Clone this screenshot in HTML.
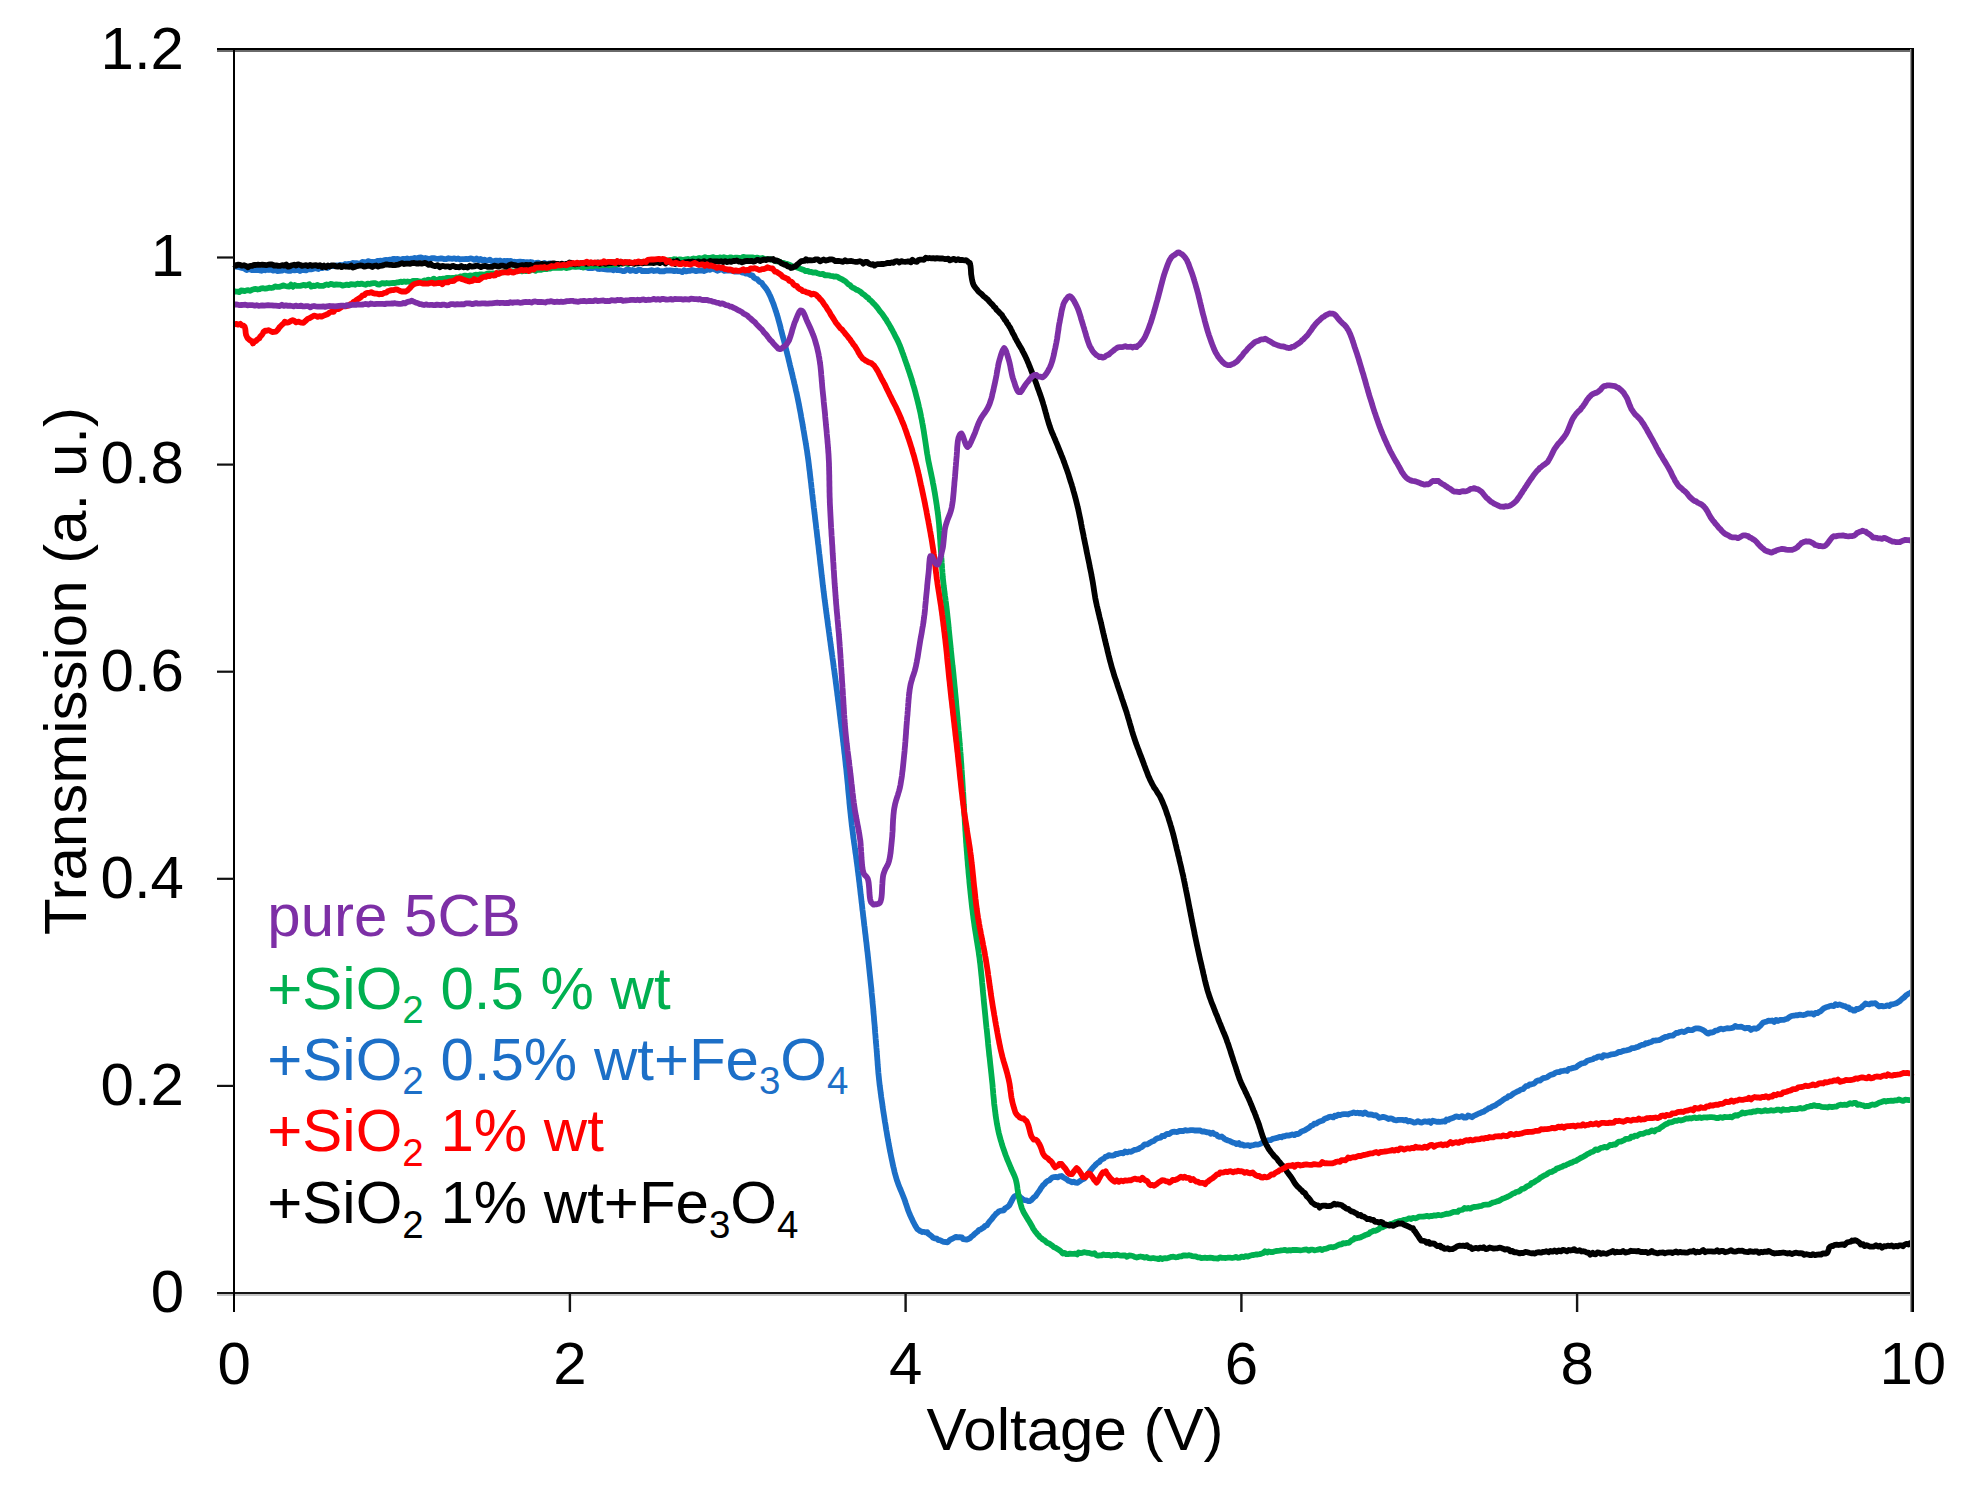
<!DOCTYPE html>
<html lang="en"><head><meta charset="utf-8"><title>Transmission vs Voltage</title>
<style>html,body{margin:0;padding:0;background:#fff;overflow:hidden;}svg{display:block;}text{white-space:pre;}</style></head>
<body>
<svg width="1967" height="1494" viewBox="0 0 1967 1494">
<rect width="1967" height="1494" fill="#fff"/>
<g fill="none" stroke-linejoin="round" stroke-linecap="butt" stroke-width="5.8">
<path stroke="#1c6fc7" d="M234.0,266.0 L235.8,266.7 L237.6,266.9 L239.5,267.2 L241.3,267.9 L243.2,268.1 L245.0,269.0 L246.6,270.0 L248.4,269.3 L250.2,269.4 L251.9,270.2 L253.7,270.2 L255.7,270.2 L257.8,269.8 L260.0,270.4 L261.6,270.8 L263.3,269.8 L265.1,270.3 L267.0,269.6 L269.0,270.0 L271.0,269.7 L273.1,270.6 L275.3,270.1 L277.5,271.0 L279.7,270.9 L281.9,270.7 L284.1,269.4 L286.3,270.5 L288.4,270.8 L290.5,270.8 L292.6,269.9 L294.6,270.4 L296.5,270.0 L298.3,270.0 L300.0,271.0 L302.0,269.8 L304.1,270.1 L306.0,270.4 L307.7,269.4 L309.6,269.4 L311.3,269.3 L313.0,269.0 L314.6,268.1 L316.5,268.5 L318.3,269.0 L319.9,267.2 L321.9,268.2 L323.6,267.5 L325.3,266.9 L327.3,268.0 L328.9,267.0 L330.5,265.7 L332.4,266.1 L334.3,266.1 L336.1,265.4 L338.1,265.6 L340.0,265.0 L341.7,265.1 L343.5,265.4 L345.2,264.0 L347.1,264.3 L348.9,263.8 L350.8,263.9 L352.6,263.0 L354.6,263.1 L356.5,263.2 L358.5,263.6 L360.5,263.5 L362.3,262.0 L364.2,262.1 L366.2,262.7 L368.0,261.1 L370.0,261.8 L371.9,261.8 L373.8,262.3 L375.5,261.8 L377.2,261.0 L379.0,260.8 L380.8,260.6 L382.7,261.4 L384.3,260.1 L386.1,260.0 L388.0,260.1 L389.9,259.7 L391.8,259.5 L393.7,258.8 L395.8,259.2 L397.8,258.9 L400.0,259.6 L401.7,259.3 L403.4,258.8 L405.2,259.2 L407.1,258.5 L409.0,259.3 L410.9,258.6 L412.8,258.9 L414.8,257.9 L416.9,258.7 L418.9,257.6 L421.0,257.4 L423.1,258.3 L425.2,258.0 L427.3,258.6 L429.5,259.8 L431.6,258.1 L433.7,258.2 L435.9,258.7 L438.0,258.9 L440.1,258.5 L442.2,258.5 L444.3,259.1 L446.4,259.0 L448.5,258.2 L450.5,258.7 L452.4,258.8 L454.4,258.3 L456.3,259.1 L458.2,258.5 L460.0,259.5 L462.1,259.2 L464.2,259.2 L466.3,258.9 L468.3,259.2 L470.4,258.3 L472.4,258.8 L474.4,259.8 L476.5,258.5 L478.4,260.2 L480.4,258.9 L482.3,260.4 L484.3,259.6 L486.1,260.6 L488.0,260.4 L489.9,259.6 L491.6,261.2 L493.3,261.4 L495.1,260.7 L496.8,260.7 L498.4,260.8 L500.0,260.5 L502.0,261.7 L504.0,260.9 L505.8,261.2 L507.5,260.9 L509.2,261.1 L510.9,260.8 L512.5,262.3 L514.2,261.6 L516.0,262.3 L518.0,261.9 L520.0,261.6 L521.6,261.9 L523.3,261.9 L525.0,262.3 L526.8,262.2 L528.6,262.4 L530.5,262.0 L532.4,262.4 L534.2,263.9 L536.2,262.8 L538.2,262.7 L540.1,263.6 L542.1,264.3 L544.2,262.9 L546.2,263.8 L548.2,263.7 L550.3,263.3 L552.1,264.8 L554.2,264.5 L556.1,264.7 L558.1,264.4 L560.0,265.2 L561.9,264.9 L563.8,265.2 L565.8,264.9 L567.7,265.0 L569.4,266.5 L571.4,265.7 L573.3,266.3 L575.2,266.3 L577.1,266.3 L579.0,266.4 L580.9,267.2 L582.8,266.9 L584.7,267.1 L586.6,267.4 L588.4,268.2 L590.4,268.1 L592.3,268.1 L594.3,267.7 L596.2,267.5 L598.0,268.9 L600.0,269.0 L601.9,268.6 L603.7,269.1 L605.6,269.3 L607.5,269.5 L609.4,269.7 L611.3,269.1 L613.2,270.3 L615.2,268.9 L617.0,270.2 L618.9,270.1 L620.8,270.4 L622.7,271.1 L624.6,271.0 L626.6,269.6 L628.5,269.4 L630.4,270.9 L632.3,270.0 L634.2,270.6 L636.1,271.2 L638.1,269.9 L640.1,269.7 L642.0,271.0 L644.0,271.0 L645.9,270.9 L647.9,271.1 L649.9,270.6 L651.9,270.2 L654.0,271.0 L656.0,270.6 L658.0,270.2 L660.1,271.4 L662.1,271.1 L664.1,271.3 L666.2,270.5 L668.2,270.7 L670.2,270.5 L672.2,270.6 L674.3,271.1 L676.3,270.6 L678.3,271.2 L680.2,271.2 L682.2,272.1 L684.1,270.2 L686.1,271.4 L688.0,270.9 L690.0,270.9 L692.0,270.0 L694.0,270.5 L696.0,271.1 L698.0,270.6 L700.0,270.6 L702.0,270.4 L704.0,271.1 L705.9,270.4 L707.8,269.1 L709.8,269.9 L711.7,269.1 L713.5,268.4 L715.4,269.8 L717.3,270.8 L719.1,270.1 L720.9,269.5 L722.6,269.7 L724.3,270.9 L726.0,270.5 L728.1,270.6 L730.3,270.7 L732.3,270.9 L734.3,271.6 L736.4,271.7 L738.3,271.7 L740.4,271.4 L742.1,272.5 L744.0,272.3 L745.5,273.6 L747.4,273.1 L748.8,274.1 L750.7,275.1 L752.7,275.6 L753.8,277.5 L755.5,278.6 L757.3,279.3 L758.5,280.8 L759.9,282.0 L761.8,282.9 L762.8,284.7 L764.1,286.1 L765.3,287.6 L766.5,289.1 L767.6,291.0 L768.5,292.5 L769.3,294.2 L770.1,295.8 L770.9,297.6 L771.6,299.5 L772.4,301.4 L773.2,303.3 L773.9,305.3 L774.6,307.4 L775.3,309.4 L775.8,311.1 L776.4,312.7 L776.9,314.5 L777.5,316.2 L778.0,318.0 L778.5,319.9 L779.0,321.7 L779.5,323.6 L780.0,325.4 L780.5,327.3 L780.9,329.2 L781.4,331.1 L781.9,333.0 L782.4,334.9 L782.9,336.8 L783.4,338.7 L783.9,340.5 L784.4,342.4 L784.8,344.3 L785.3,346.2 L785.8,348.0 L786.3,349.9 L786.7,351.8 L787.2,353.8 L787.7,355.7 L788.2,357.6 L788.6,359.5 L789.1,361.5 L789.6,363.4 L790.0,365.4 L790.5,367.3 L790.9,369.1 L791.4,370.9 L791.8,372.8 L792.3,374.6 L792.7,376.4 L793.1,378.2 L793.6,380.0 L794.0,381.9 L794.4,383.7 L794.9,385.6 L795.3,387.4 L795.7,389.3 L796.1,391.2 L796.6,393.1 L797.0,395.0 L797.4,397.0 L797.8,398.9 L798.2,400.9 L798.6,402.8 L799.0,404.7 L799.3,406.6 L799.7,408.6 L800.1,410.7 L800.5,412.8 L800.9,414.9 L801.2,417.0 L801.6,419.1 L802.0,421.2 L802.4,423.3 L802.7,425.4 L803.1,427.5 L803.4,429.5 L803.8,431.5 L804.1,433.4 L804.4,435.3 L804.7,437.1 L805.0,438.9 L805.3,440.5 L805.6,442.1 L805.8,443.6 L806.2,445.7 L806.4,447.5 L806.7,449.2 L807.0,450.8 L807.2,452.3 L807.4,454.0 L807.7,455.9 L808.0,458.0 L808.2,459.4 L808.4,460.9 L808.6,462.5 L808.8,464.1 L809.0,465.9 L809.2,467.6 L809.4,469.5 L809.7,471.4 L809.9,473.3 L810.1,475.3 L810.3,477.3 L810.6,479.3 L810.8,481.3 L811.1,483.4 L811.3,485.5 L811.5,487.6 L811.8,489.7 L812.0,491.7 L812.2,493.8 L812.5,495.9 L812.7,497.9 L812.9,499.9 L813.2,501.9 L813.4,503.8 L813.6,505.7 L813.8,507.6 L814.1,509.5 L814.3,511.4 L814.5,513.3 L814.8,515.3 L815.0,517.2 L815.2,519.1 L815.4,521.0 L815.7,522.9 L815.9,524.8 L816.1,526.7 L816.3,528.6 L816.6,530.5 L816.8,532.4 L817.0,534.3 L817.2,536.2 L817.5,538.2 L817.7,540.1 L817.9,542.0 L818.1,543.9 L818.4,545.8 L818.6,547.7 L818.8,549.6 L819.0,551.5 L819.2,553.4 L819.5,555.3 L819.7,557.2 L819.9,559.1 L820.1,561.0 L820.3,562.9 L820.5,564.8 L820.8,566.7 L821.0,568.6 L821.2,570.5 L821.4,572.5 L821.6,574.4 L821.8,576.3 L822.1,578.2 L822.3,580.1 L822.5,582.0 L822.7,583.9 L822.9,585.8 L823.2,587.7 L823.4,589.6 L823.6,591.5 L823.9,593.4 L824.1,595.3 L824.3,597.2 L824.6,599.1 L824.8,601.0 L825.1,602.9 L825.3,604.8 L825.6,606.8 L825.8,608.7 L826.1,610.6 L826.3,612.5 L826.6,614.4 L826.8,616.3 L827.1,618.2 L827.4,620.1 L827.6,622.0 L827.9,624.0 L828.1,625.9 L828.4,627.8 L828.7,629.7 L828.9,631.6 L829.2,633.5 L829.4,635.4 L829.7,637.3 L829.9,639.2 L830.2,641.1 L830.5,643.1 L830.7,645.0 L831.0,646.9 L831.2,648.8 L831.5,650.7 L831.8,652.5 L832.0,654.4 L832.3,656.3 L832.5,658.1 L832.8,660.0 L833.1,661.9 L833.3,663.8 L833.6,665.7 L833.8,667.6 L834.1,669.5 L834.4,671.5 L834.6,673.5 L834.9,675.5 L835.2,677.5 L835.5,679.6 L835.7,681.7 L836.0,683.8 L836.3,686.0 L836.5,687.7 L836.7,689.5 L837.0,691.2 L837.2,693.0 L837.4,694.9 L837.7,696.7 L837.9,698.6 L838.1,700.5 L838.4,702.4 L838.6,704.3 L838.9,706.3 L839.1,708.3 L839.4,710.3 L839.6,712.3 L839.8,714.3 L840.1,716.3 L840.3,718.3 L840.6,720.4 L840.8,722.4 L841.1,724.4 L841.3,726.5 L841.6,728.5 L841.8,730.6 L842.1,732.7 L842.3,734.7 L842.6,736.7 L842.8,738.8 L843.0,740.8 L843.3,742.8 L843.5,744.9 L843.8,746.9 L844.0,748.8 L844.2,750.8 L844.4,752.8 L844.7,754.7 L844.9,756.7 L845.1,758.6 L845.3,760.4 L845.5,762.3 L845.7,764.4 L845.9,766.4 L846.2,768.5 L846.4,770.6 L846.6,772.6 L846.8,774.7 L847.0,776.7 L847.2,778.7 L847.4,780.8 L847.6,782.8 L847.8,784.8 L848.0,786.8 L848.1,788.8 L848.3,790.8 L848.5,792.8 L848.7,794.8 L848.9,796.7 L849.1,798.7 L849.3,800.6 L849.4,802.6 L849.6,804.5 L849.8,806.4 L850.0,808.4 L850.2,810.3 L850.4,812.2 L850.6,814.0 L850.8,815.9 L851.0,817.8 L851.2,819.6 L851.4,821.5 L851.6,823.3 L851.8,825.3 L852.1,827.4 L852.3,829.3 L852.6,831.3 L852.8,833.3 L853.1,835.2 L853.3,837.2 L853.6,839.1 L853.9,841.0 L854.1,842.9 L854.4,844.8 L854.7,846.6 L854.9,848.5 L855.2,850.4 L855.4,852.2 L855.7,854.1 L856.0,856.0 L856.2,857.8 L856.5,859.7 L856.7,861.6 L857.0,863.4 L857.2,865.3 L857.5,867.2 L857.7,869.1 L857.9,871.1 L858.2,873.0 L858.4,875.0 L858.7,876.9 L858.9,878.9 L859.1,880.8 L859.4,882.8 L859.6,884.7 L859.8,886.7 L860.1,888.6 L860.3,890.6 L860.5,892.5 L860.7,894.5 L861.0,896.4 L861.2,898.4 L861.4,900.3 L861.6,902.3 L861.9,904.2 L862.1,906.2 L862.3,908.1 L862.5,910.1 L862.8,912.0 L863.0,914.0 L863.2,915.9 L863.4,917.8 L863.7,919.7 L863.9,921.6 L864.1,923.5 L864.3,925.4 L864.6,927.3 L864.8,929.2 L865.0,931.1 L865.2,933.0 L865.5,935.0 L865.7,936.9 L865.9,938.8 L866.1,940.7 L866.4,942.6 L866.6,944.5 L866.8,946.4 L867.0,948.3 L867.2,950.2 L867.5,952.2 L867.7,954.1 L867.9,956.0 L868.1,957.9 L868.3,959.8 L868.5,961.7 L868.7,963.6 L868.9,965.5 L869.1,967.4 L869.3,969.3 L869.5,971.2 L869.7,973.2 L869.9,975.1 L870.1,977.0 L870.3,978.9 L870.5,980.8 L870.7,982.7 L870.9,984.6 L871.1,986.5 L871.3,988.4 L871.5,990.3 L871.6,992.2 L871.8,994.2 L872.0,996.1 L872.2,998.0 L872.4,999.9 L872.5,1001.8 L872.7,1003.7 L872.9,1005.6 L873.1,1007.6 L873.3,1009.6 L873.4,1011.6 L873.6,1013.7 L873.8,1015.7 L874.0,1017.8 L874.1,1019.9 L874.3,1021.9 L874.5,1024.0 L874.7,1026.0 L874.8,1028.1 L875.0,1030.1 L875.1,1032.2 L875.3,1034.2 L875.5,1036.2 L875.6,1038.2 L875.8,1040.1 L875.9,1042.1 L876.1,1044.0 L876.3,1045.9 L876.4,1047.7 L876.6,1049.5 L876.7,1051.3 L876.9,1053.4 L877.0,1055.4 L877.2,1057.4 L877.3,1059.3 L877.5,1061.2 L877.6,1063.1 L877.7,1064.9 L877.9,1066.7 L878.0,1068.6 L878.2,1070.4 L878.3,1072.2 L878.5,1074.1 L878.7,1076.0 L878.9,1078.0 L879.1,1080.0 L879.3,1081.8 L879.5,1083.6 L879.7,1085.5 L880.0,1087.3 L880.2,1089.2 L880.5,1091.1 L880.7,1093.0 L881.0,1095.0 L881.2,1096.9 L881.5,1098.9 L881.8,1100.8 L882.1,1102.8 L882.4,1104.7 L882.6,1106.7 L882.9,1108.6 L883.2,1110.6 L883.5,1112.5 L883.8,1114.4 L884.1,1116.3 L884.4,1118.2 L884.7,1120.2 L885.0,1122.2 L885.4,1124.2 L885.7,1126.2 L886.0,1128.2 L886.3,1130.2 L886.7,1132.2 L887.0,1134.2 L887.3,1136.1 L887.7,1138.1 L888.0,1140.1 L888.4,1142.0 L888.7,1143.9 L889.1,1145.8 L889.4,1147.7 L889.8,1149.6 L890.1,1151.4 L890.5,1153.2 L890.9,1155.2 L891.3,1157.2 L891.7,1159.1 L892.1,1161.0 L892.5,1162.9 L892.9,1164.8 L893.3,1166.7 L893.8,1168.5 L894.2,1170.4 L894.6,1172.2 L895.1,1174.0 L895.6,1175.7 L896.1,1177.5 L896.6,1179.2 L897.2,1181.1 L897.9,1183.0 L898.6,1184.9 L899.3,1186.7 L900.0,1188.5 L900.8,1190.3 L901.5,1192.0 L902.2,1193.8 L902.9,1195.5 L903.6,1197.3 L904.3,1199.0 L905.0,1200.9 L905.6,1202.9 L906.3,1204.8 L906.9,1206.6 L907.5,1208.5 L908.2,1210.4 L908.9,1212.2 L909.6,1214.0 L910.4,1215.8 L911.3,1217.7 L912.2,1219.6 L913.1,1221.7 L914.2,1223.7 L915.2,1225.6 L916.3,1227.3 L917.2,1229.0 L918.7,1229.9 L919.6,1230.9 L921.0,1231.3 L922.5,1232.0 L924.0,1231.8 L925.4,1232.4 L927.3,1232.2 L928.4,1233.9 L930.1,1235.0 L931.7,1236.3 L933.1,1237.8 L935.0,1238.4 L936.8,1238.7 L938.3,1240.1 L940.2,1240.2 L941.9,1241.1 L943.6,1241.9 L945.5,1242.0 L947.4,1242.3 L949.0,1240.8 L950.5,1239.5 L952.4,1238.8 L954.2,1237.8 L955.9,1236.9 L957.7,1237.4 L959.7,1237.1 L961.8,1237.3 L963.2,1239.2 L965.1,1239.4 L966.8,1239.7 L968.4,1239.0 L970.0,1238.1 L971.4,1236.7 L973.1,1235.5 L974.5,1234.0 L976.1,1232.7 L977.6,1231.7 L978.8,1230.1 L980.6,1229.5 L982.1,1228.4 L983.7,1227.5 L985.0,1226.0 L986.9,1225.3 L987.9,1223.8 L989.0,1222.3 L990.1,1220.9 L991.4,1219.5 L992.5,1218.1 L993.6,1216.5 L994.9,1215.2 L996.0,1213.8 L997.4,1212.9 L998.7,1211.5 L1000.3,1210.9 L1002.1,1210.5 L1004.0,1210.3 L1005.0,1208.3 L1006.5,1207.6 L1007.9,1206.6 L1009.3,1205.3 L1010.3,1203.5 L1011.3,1201.6 L1012.3,1199.7 L1013.2,1198.0 L1014.2,1196.5 L1015.6,1195.8 L1017.5,1195.0 L1019.2,1196.2 L1020.9,1197.7 L1022.6,1199.1 L1024.6,1200.2 L1026.5,1200.3 L1027.9,1201.0 L1029.7,1201.2 L1031.3,1200.1 L1032.6,1198.8 L1034.0,1197.3 L1035.6,1196.1 L1036.6,1194.6 L1037.6,1193.1 L1038.7,1191.6 L1039.9,1190.0 L1040.8,1188.3 L1042.0,1186.8 L1043.0,1185.2 L1044.6,1183.9 L1045.9,1182.2 L1047.5,1180.9 L1049.5,1180.2 L1050.8,1178.8 L1052.2,1177.5 L1054.0,1177.1 L1055.8,1176.9 L1057.7,1177.3 L1059.5,1176.4 L1061.6,1176.0 L1063.1,1177.3 L1064.8,1178.2 L1066.6,1179.2 L1068.2,1180.7 L1070.1,1181.3 L1071.8,1182.3 L1073.6,1181.6 L1075.6,1182.6 L1077.6,1182.8 L1079.3,1181.5 L1081.0,1180.4 L1082.8,1179.2 L1084.3,1178.6 L1085.1,1177.0 L1086.4,1175.8 L1087.7,1174.4 L1088.9,1172.9 L1090.0,1171.2 L1091.3,1169.7 L1092.5,1168.1 L1093.7,1166.8 L1095.0,1165.5 L1096.3,1164.0 L1097.9,1162.8 L1099.6,1161.7 L1100.8,1160.1 L1102.4,1159.1 L1104.2,1158.3 L1105.4,1156.8 L1107.2,1156.4 L1108.7,1155.1 L1110.7,1155.6 L1112.5,1155.7 L1114.2,1155.3 L1115.8,1153.8 L1117.6,1154.0 L1119.4,1153.3 L1121.3,1152.9 L1123.3,1153.3 L1125.0,1151.5 L1127.2,1152.4 L1129.0,1151.5 L1131.1,1151.9 L1132.9,1150.8 L1134.6,1149.9 L1136.6,1149.6 L1138.4,1149.0 L1140.0,1147.9 L1141.8,1147.1 L1143.3,1145.8 L1144.7,1144.3 L1147.1,1144.4 L1148.7,1143.5 L1150.2,1142.5 L1151.9,1141.6 L1153.8,1141.0 L1155.3,1139.6 L1157.0,1138.6 L1158.8,1138.0 L1160.8,1137.7 L1162.0,1136.0 L1164.2,1136.2 L1165.6,1134.7 L1167.2,1133.8 L1169.2,1134.1 L1170.7,1132.9 L1172.3,1131.8 L1174.4,1131.7 L1176.2,1132.0 L1177.9,1131.9 L1179.6,1130.8 L1181.4,1131.0 L1183.3,1131.0 L1185.2,1130.2 L1187.1,1130.6 L1189.0,1130.4 L1190.9,1130.1 L1192.7,1130.1 L1194.5,1130.5 L1196.4,1130.5 L1198.3,1130.3 L1200.2,1130.5 L1201.9,1131.5 L1203.8,1131.3 L1205.6,1131.9 L1207.4,1132.4 L1209.2,1132.4 L1210.7,1133.7 L1212.9,1132.8 L1214.4,1134.2 L1216.4,1134.5 L1217.7,1136.1 L1219.4,1136.9 L1221.7,1136.5 L1223.2,1137.7 L1224.6,1139.0 L1226.2,1139.8 L1228.0,1140.5 L1229.8,1141.0 L1231.4,1141.9 L1233.1,1142.7 L1234.9,1143.0 L1236.5,1144.1 L1238.8,1143.0 L1240.3,1144.8 L1242.3,1144.4 L1244.1,1145.7 L1246.2,1145.4 L1248.2,1145.2 L1250.1,1146.0 L1252.0,1145.3 L1253.7,1145.1 L1255.4,1144.5 L1257.4,1144.7 L1259.2,1144.2 L1261.0,1143.6 L1262.5,1142.4 L1264.4,1142.1 L1266.0,1141.0 L1267.6,1140.4 L1269.4,1140.2 L1271.1,1140.0 L1272.6,1138.9 L1274.3,1138.5 L1276.0,1138.1 L1277.9,1137.7 L1279.6,1136.8 L1281.5,1137.3 L1283.1,1136.2 L1284.9,1136.3 L1286.7,1135.3 L1288.6,1135.6 L1290.5,1135.2 L1292.3,1134.4 L1294.4,1135.2 L1296.1,1133.9 L1298.1,1134.0 L1299.8,1133.0 L1301.2,1131.6 L1303.0,1130.9 L1304.8,1130.3 L1306.4,1129.3 L1308.1,1128.3 L1309.7,1127.2 L1311.1,1125.7 L1313.0,1125.2 L1314.3,1123.7 L1316.4,1123.6 L1317.8,1122.4 L1319.5,1121.6 L1321.2,1121.0 L1322.9,1120.5 L1324.2,1119.1 L1325.8,1118.3 L1327.6,1117.9 L1329.1,1116.8 L1331.1,1116.7 L1333.3,1117.4 L1334.6,1115.7 L1336.5,1116.1 L1338.1,1114.7 L1340.2,1115.1 L1342.0,1114.4 L1344.0,1114.2 L1346.0,1114.2 L1348.1,1114.5 L1349.9,1113.5 L1351.9,1113.2 L1353.7,1112.4 L1355.6,1113.2 L1357.4,1112.7 L1359.1,1113.3 L1361.1,1112.9 L1362.9,1114.0 L1365.0,1112.4 L1366.7,1113.6 L1368.3,1114.6 L1370.2,1114.4 L1372.1,1114.7 L1373.9,1115.4 L1376.0,1115.2 L1377.6,1116.3 L1379.1,1117.8 L1381.0,1117.5 L1383.1,1116.8 L1384.9,1117.3 L1386.7,1117.9 L1388.5,1119.0 L1390.6,1118.4 L1392.5,1118.8 L1394.3,1120.0 L1396.3,1120.3 L1398.3,1119.9 L1400.4,1119.8 L1402.2,1119.8 L1404.1,1120.4 L1406.1,1119.8 L1407.9,1121.5 L1410.0,1120.9 L1412.0,1121.7 L1414.0,1122.6 L1416.0,1122.3 L1418.1,1121.1 L1420.0,1122.3 L1422.0,1122.5 L1423.9,1121.5 L1425.8,1121.5 L1427.5,1121.9 L1429.2,1121.1 L1430.8,1122.8 L1432.8,1120.7 L1434.8,1121.3 L1436.6,1121.8 L1438.4,1121.7 L1440.1,1121.8 L1441.8,1121.7 L1443.4,1121.2 L1445.1,1121.6 L1446.5,1119.5 L1448.5,1119.8 L1449.9,1118.8 L1451.7,1118.4 L1453.4,1117.7 L1455.2,1116.7 L1456.9,1116.5 L1458.7,1117.1 L1460.4,1116.7 L1462.3,1116.1 L1464.2,1117.6 L1466.2,1117.7 L1468.0,1115.5 L1470.0,1116.3 L1472.0,1117.2 L1473.7,1115.9 L1475.4,1115.1 L1477.0,1114.3 L1478.7,1113.5 L1480.4,1112.9 L1482.0,1112.1 L1483.9,1111.7 L1485.3,1110.4 L1487.0,1109.6 L1488.5,1108.4 L1490.4,1107.9 L1491.9,1106.7 L1493.7,1106.0 L1495.5,1105.3 L1497.0,1104.1 L1498.7,1103.1 L1500.3,1101.9 L1501.9,1100.8 L1503.5,1099.6 L1505.2,1098.5 L1507.1,1097.8 L1508.5,1096.2 L1510.6,1096.0 L1512.1,1094.6 L1513.7,1093.4 L1515.5,1092.5 L1517.3,1091.5 L1519.2,1090.8 L1520.9,1089.5 L1523.0,1089.2 L1524.5,1087.6 L1526.0,1086.2 L1528.1,1085.8 L1529.6,1084.5 L1531.6,1084.3 L1533.5,1083.8 L1535.1,1082.7 L1536.4,1081.2 L1538.1,1080.5 L1540.2,1080.5 L1541.5,1079.2 L1543.1,1078.2 L1544.9,1077.8 L1546.8,1077.5 L1548.3,1076.4 L1549.9,1075.2 L1551.7,1074.6 L1553.6,1074.1 L1555.2,1072.9 L1557.1,1072.1 L1559.2,1072.1 L1561.0,1071.1 L1563.1,1070.9 L1565.0,1070.5 L1567.3,1071.0 L1568.7,1068.9 L1570.7,1068.7 L1572.5,1068.1 L1574.4,1067.7 L1576.2,1067.2 L1577.7,1065.8 L1579.3,1064.9 L1580.8,1063.8 L1582.5,1063.3 L1584.4,1063.0 L1585.9,1062.0 L1587.3,1060.8 L1589.1,1060.3 L1590.8,1059.8 L1592.7,1059.3 L1594.3,1058.2 L1596.2,1057.9 L1597.9,1056.6 L1599.9,1056.5 L1602.1,1057.5 L1603.6,1055.2 L1605.8,1055.7 L1607.8,1055.6 L1609.7,1054.9 L1611.6,1054.3 L1613.6,1054.2 L1615.5,1053.7 L1617.3,1053.1 L1618.8,1051.8 L1620.9,1052.0 L1622.6,1051.1 L1624.4,1050.6 L1626.3,1050.3 L1628.2,1049.9 L1630.0,1049.4 L1631.5,1048.2 L1633.5,1048.2 L1635.2,1047.7 L1636.9,1047.1 L1638.6,1046.7 L1640.4,1045.4 L1642.3,1044.8 L1644.2,1044.7 L1645.8,1043.1 L1647.8,1043.3 L1649.5,1042.4 L1651.4,1042.0 L1653.1,1040.7 L1655.2,1040.5 L1656.9,1040.3 L1658.8,1040.2 L1660.5,1039.6 L1662.0,1038.5 L1663.8,1037.8 L1665.4,1036.9 L1667.4,1036.8 L1669.1,1035.9 L1671.0,1035.7 L1673.0,1035.6 L1674.5,1034.2 L1676.1,1033.0 L1678.0,1032.8 L1679.8,1032.0 L1681.9,1031.5 L1684.3,1032.1 L1686.2,1031.0 L1688.1,1029.6 L1690.4,1030.2 L1692.5,1030.0 L1694.3,1028.8 L1696.1,1028.4 L1697.9,1028.4 L1699.5,1028.7 L1700.9,1029.0 L1702.6,1029.8 L1704.2,1030.7 L1705.5,1031.9 L1706.9,1033.1 L1708.7,1033.6 L1710.2,1032.3 L1712.0,1032.5 L1713.7,1031.9 L1715.4,1030.7 L1717.5,1030.4 L1719.4,1029.2 L1721.0,1028.6 L1723.1,1029.4 L1725.0,1028.7 L1727.0,1028.2 L1729.1,1028.3 L1731.1,1028.1 L1733.2,1027.6 L1735.2,1025.9 L1737.2,1026.8 L1739.2,1026.8 L1741.2,1026.6 L1743.1,1027.5 L1745.0,1028.4 L1747.2,1027.9 L1749.1,1028.0 L1750.8,1029.9 L1752.7,1028.8 L1754.4,1028.3 L1756.0,1028.8 L1757.8,1028.1 L1759.1,1026.7 L1760.6,1025.5 L1761.8,1024.0 L1763.2,1022.5 L1765.1,1021.9 L1766.7,1021.7 L1768.3,1020.6 L1770.2,1020.9 L1772.1,1020.5 L1774.1,1022.0 L1776.0,1019.9 L1778.0,1021.0 L1779.9,1020.0 L1781.7,1019.8 L1783.5,1019.9 L1785.4,1019.3 L1787.2,1018.8 L1788.7,1017.7 L1790.2,1016.6 L1791.9,1015.8 L1793.9,1015.7 L1795.8,1015.2 L1797.6,1015.3 L1799.5,1014.6 L1801.5,1014.9 L1803.6,1015.1 L1805.7,1014.4 L1807.8,1013.5 L1809.9,1013.6 L1811.8,1013.3 L1813.9,1014.6 L1815.4,1013.0 L1817.4,1013.2 L1818.9,1012.0 L1820.5,1011.3 L1821.8,1010.1 L1823.1,1008.9 L1824.5,1007.9 L1826.2,1007.3 L1828.0,1006.8 L1829.7,1006.0 L1831.7,1005.7 L1833.8,1006.2 L1835.5,1004.2 L1837.6,1005.1 L1839.5,1004.4 L1841.4,1005.1 L1843.1,1005.8 L1845.0,1006.1 L1846.6,1007.3 L1848.7,1007.5 L1850.0,1009.4 L1852.0,1009.5 L1853.5,1010.6 L1855.2,1010.5 L1856.4,1008.9 L1858.1,1009.1 L1859.7,1008.4 L1861.4,1007.5 L1862.6,1006.1 L1864.1,1005.0 L1865.5,1003.5 L1867.6,1004.2 L1869.2,1004.3 L1871.1,1003.4 L1873.1,1003.5 L1875.3,1003.2 L1877.2,1004.9 L1879.1,1006.3 L1881.4,1005.8 L1883.4,1006.4 L1885.4,1006.2 L1887.1,1005.3 L1889.3,1006.1 L1890.9,1004.4 L1892.8,1004.3 L1894.7,1003.8 L1896.4,1003.2 L1898.0,1002.2 L1899.5,1001.3 L1901.0,999.9 L1902.5,998.5 L1904.1,997.5 L1905.4,996.0 L1906.8,994.8 L1908.3,993.8 L1909.9,993.3 L1911.2,992.1 L1912.8,991.5"/>
<path stroke="#00b050" d="M233.9,291.1 L235.8,291.7 L237.6,291.6 L239.5,292.1 L241.1,290.4 L242.9,290.6 L244.7,291.1 L246.5,290.4 L248.3,290.2 L250.2,290.9 L252.0,289.8 L253.9,289.2 L255.9,288.9 L257.8,289.5 L259.6,289.2 L261.3,288.3 L263.2,288.2 L265.2,288.7 L267.2,288.4 L269.1,287.7 L271.2,288.0 L273.2,287.7 L275.1,286.4 L277.2,286.8 L279.2,286.9 L281.2,286.3 L283.1,285.4 L285.2,286.0 L287.2,286.3 L289.2,286.5 L290.9,284.7 L293.0,286.8 L294.8,285.0 L296.7,285.9 L298.5,285.9 L300.3,285.8 L302.1,285.4 L303.9,284.8 L305.7,285.6 L307.5,285.0 L309.4,284.2 L311.3,286.6 L313.2,285.6 L315.2,286.1 L317.2,284.9 L319.3,285.9 L321.5,285.9 L323.2,285.9 L324.9,285.1 L326.7,284.5 L328.5,285.0 L330.4,284.0 L332.3,284.2 L334.3,284.9 L336.3,284.4 L338.3,284.7 L340.4,284.7 L342.5,285.6 L344.6,285.2 L346.7,284.6 L348.8,285.1 L350.9,284.1 L353.1,284.3 L355.2,284.8 L357.3,283.7 L359.4,284.1 L361.5,283.6 L363.6,284.2 L365.7,284.8 L367.7,283.6 L369.7,284.0 L371.7,283.4 L373.6,283.2 L375.5,283.1 L377.4,284.3 L379.2,284.6 L380.8,283.7 L382.5,283.1 L384.7,283.6 L386.8,283.0 L388.9,283.4 L391.0,283.1 L393.0,283.0 L394.9,283.0 L396.8,282.4 L398.7,282.3 L400.5,281.6 L402.3,282.1 L404.1,281.5 L405.9,281.9 L407.7,281.5 L409.5,281.8 L411.2,281.8 L413.0,280.9 L415.0,281.0 L417.0,280.8 L418.9,281.4 L420.9,281.7 L422.7,281.2 L424.5,280.5 L426.4,281.1 L428.2,279.6 L430.2,280.8 L432.0,279.7 L433.9,278.6 L436.1,280.8 L437.8,280.1 L439.5,278.8 L441.4,279.1 L443.2,278.7 L445.1,278.7 L446.9,277.8 L448.8,277.9 L450.7,278.2 L452.6,277.8 L454.6,278.0 L456.5,277.3 L458.5,278.1 L460.3,276.5 L462.2,276.7 L464.0,275.6 L465.9,275.6 L468.0,276.6 L469.8,275.4 L471.8,275.8 L473.7,275.3 L475.6,274.7 L477.5,274.8 L479.4,274.5 L481.4,274.4 L483.4,274.7 L485.3,274.5 L487.2,273.7 L489.1,273.4 L491.1,273.7 L493.1,273.3 L495.1,273.6 L497.1,274.2 L498.9,273.2 L500.8,272.6 L502.7,272.4 L504.6,271.9 L506.5,271.7 L508.4,271.5 L510.3,271.6 L512.3,271.4 L514.2,271.7 L516.1,271.0 L518.1,270.9 L520.0,270.3 L522.1,271.4 L524.0,270.7 L526.0,271.1 L528.0,270.5 L530.1,270.7 L531.8,269.7 L533.7,270.0 L535.6,270.8 L537.3,268.9 L539.2,269.8 L541.1,269.9 L542.9,269.2 L544.8,269.2 L546.7,269.2 L548.5,268.2 L550.4,268.6 L552.3,267.9 L554.2,267.8 L556.2,267.7 L558.1,267.8 L560.1,267.8 L562.1,267.8 L564.0,266.8 L566.1,268.2 L568.0,267.7 L570.0,267.3 L571.8,266.7 L573.7,266.7 L575.6,266.9 L577.5,266.7 L579.3,265.6 L581.3,266.6 L583.3,267.5 L585.1,265.2 L587.1,266.4 L589.1,266.0 L591.0,265.7 L593.1,266.2 L595.0,265.0 L597.0,265.5 L599.0,265.9 L600.9,265.1 L602.9,264.9 L604.8,265.0 L606.8,264.6 L608.8,265.4 L610.6,264.2 L612.6,264.9 L614.4,263.8 L616.3,264.5 L618.2,264.1 L619.9,262.8 L622.0,263.9 L623.9,263.2 L625.9,263.4 L627.9,264.1 L629.8,262.8 L631.7,262.7 L633.7,263.7 L635.5,262.9 L637.4,263.4 L639.3,262.7 L641.1,262.0 L643.0,262.3 L644.9,262.7 L646.8,262.4 L648.6,261.8 L650.5,261.7 L652.4,261.5 L654.2,261.2 L656.2,262.2 L658.1,261.1 L660.0,260.5 L661.9,260.6 L663.9,261.1 L665.9,260.9 L667.8,260.4 L669.8,260.0 L671.8,260.2 L673.7,259.2 L675.7,259.3 L677.8,260.1 L679.8,259.3 L681.8,259.6 L683.8,259.8 L685.8,259.4 L687.8,259.0 L689.8,259.9 L691.7,259.1 L693.6,258.5 L695.6,258.9 L697.5,258.6 L699.3,258.0 L701.2,258.3 L703.0,258.1 L705.0,257.2 L707.0,258.0 L708.9,257.9 L710.9,257.8 L712.8,257.1 L714.7,257.7 L716.6,257.8 L718.5,257.9 L720.3,257.3 L722.2,258.1 L724.0,257.2 L725.8,257.7 L727.7,258.4 L729.5,257.5 L731.3,257.5 L733.2,258.3 L735.0,257.6 L737.0,257.7 L739.0,257.9 L741.0,258.3 L743.1,256.8 L745.1,257.4 L747.1,257.3 L749.1,257.3 L751.1,257.4 L753.1,257.5 L755.0,258.0 L757.0,257.6 L758.8,258.1 L760.6,258.4 L762.4,258.0 L764.0,258.6 L765.9,259.5 L767.9,259.2 L769.7,259.1 L771.4,259.7 L773.2,259.8 L774.8,260.7 L776.4,261.4 L778.3,261.2 L780.0,261.9 L781.6,262.9 L783.6,262.9 L785.3,263.7 L787.2,263.9 L789.0,264.6 L790.8,265.4 L792.3,267.0 L794.5,266.7 L796.3,267.3 L798.3,267.9 L800.0,268.6 L801.8,269.4 L803.7,269.8 L805.5,271.1 L807.6,270.9 L809.4,271.9 L811.5,272.0 L813.4,272.7 L815.5,272.3 L817.3,273.3 L819.2,273.8 L821.0,274.2 L823.1,273.8 L824.8,275.4 L826.8,275.2 L828.8,275.4 L830.6,275.8 L832.5,276.1 L834.3,276.7 L836.2,276.4 L837.9,277.0 L839.4,278.1 L841.1,278.9 L842.7,279.7 L844.3,280.7 L845.8,281.7 L847.1,283.0 L848.4,284.4 L850.2,285.2 L851.4,286.8 L852.9,287.7 L854.6,288.4 L856.0,289.6 L857.8,290.1 L859.4,291.1 L860.9,292.2 L862.3,293.5 L863.9,294.6 L865.4,295.8 L866.8,297.1 L868.4,298.0 L869.4,299.6 L870.9,300.6 L872.2,302.0 L873.4,303.4 L874.8,304.7 L876.1,306.1 L877.3,307.6 L878.5,309.2 L879.6,310.8 L880.9,312.3 L882.2,313.8 L883.2,315.3 L884.2,316.8 L885.2,318.4 L886.4,319.9 L887.2,321.6 L888.3,323.2 L889.3,324.9 L890.3,326.6 L891.2,328.4 L892.2,330.0 L893.1,331.8 L894.0,333.4 L894.8,335.1 L895.7,336.8 L896.5,338.3 L897.3,339.9 L898.2,341.8 L899.0,343.6 L899.8,345.4 L900.5,347.2 L901.1,348.9 L901.8,350.7 L902.4,352.5 L903.1,354.2 L903.7,356.0 L904.4,357.8 L905.0,359.7 L905.6,361.4 L906.2,363.1 L906.8,364.9 L907.5,366.6 L908.0,368.4 L908.6,370.1 L909.2,371.9 L909.8,373.7 L910.4,375.5 L911.0,377.3 L911.5,379.0 L912.1,380.8 L912.6,382.6 L913.1,384.5 L913.7,386.4 L914.3,388.3 L914.8,390.2 L915.3,392.1 L915.8,394.0 L916.3,395.9 L916.8,397.8 L917.3,399.8 L917.8,401.7 L918.2,403.6 L918.7,405.5 L919.1,407.4 L919.6,409.3 L920.0,411.1 L920.4,413.0 L920.8,414.9 L921.1,416.8 L921.5,418.6 L921.9,420.5 L922.2,422.5 L922.6,424.4 L922.9,426.4 L923.3,428.4 L923.6,430.3 L923.9,432.1 L924.2,434.1 L924.5,436.0 L924.8,438.0 L925.1,439.9 L925.4,441.9 L925.7,443.9 L926.0,445.9 L926.3,448.0 L926.6,450.0 L926.9,452.0 L927.2,454.0 L927.6,456.0 L927.9,458.0 L928.2,459.9 L928.6,461.8 L929.0,463.7 L929.4,465.6 L929.8,467.5 L930.2,469.4 L930.6,471.3 L931.0,473.2 L931.4,475.1 L931.8,477.0 L932.2,478.9 L932.6,480.9 L932.9,482.8 L933.3,484.7 L933.7,486.6 L934.0,488.5 L934.3,490.4 L934.7,492.3 L935.0,494.2 L935.3,496.1 L935.6,498.0 L935.9,499.9 L936.2,501.8 L936.5,503.7 L936.8,505.6 L937.0,507.5 L937.3,509.5 L937.6,511.4 L937.8,513.3 L938.1,515.2 L938.3,517.1 L938.5,519.0 L938.7,520.9 L938.9,522.8 L939.1,524.7 L939.2,526.6 L939.4,528.6 L939.5,530.5 L939.7,532.4 L939.8,534.3 L939.9,536.2 L940.0,538.1 L940.2,540.0 L940.3,541.9 L940.4,543.9 L940.5,545.8 L940.7,547.7 L940.8,549.6 L940.9,551.5 L941.1,553.4 L941.2,555.3 L941.3,557.2 L941.5,559.1 L941.6,561.0 L941.7,563.0 L941.9,564.9 L942.0,566.8 L942.1,568.7 L942.3,570.6 L942.4,572.5 L942.6,574.4 L942.7,576.3 L942.9,578.2 L943.1,580.1 L943.3,582.0 L943.5,583.9 L943.7,585.8 L944.0,587.7 L944.2,589.6 L944.4,591.5 L944.7,593.4 L944.9,595.4 L945.2,597.3 L945.5,599.2 L945.7,601.1 L946.0,603.0 L946.2,604.9 L946.4,606.8 L946.7,608.7 L946.9,610.6 L947.1,612.5 L947.3,614.4 L947.5,616.2 L947.7,618.1 L947.9,619.9 L948.1,621.8 L948.3,623.6 L948.5,625.5 L948.6,627.3 L948.8,629.2 L949.0,631.1 L949.2,633.1 L949.4,635.0 L949.6,637.0 L949.8,639.0 L950.0,641.1 L950.2,642.9 L950.4,644.7 L950.6,646.5 L950.7,648.3 L950.9,650.2 L951.1,652.0 L951.3,653.9 L951.5,655.8 L951.7,657.7 L951.9,659.7 L952.1,661.6 L952.3,663.6 L952.5,665.5 L952.8,667.5 L953.0,669.5 L953.2,671.5 L953.4,673.6 L953.6,675.6 L953.8,677.7 L954.0,679.7 L954.2,681.8 L954.4,683.9 L954.6,686.0 L954.8,687.8 L955.0,689.7 L955.1,691.6 L955.3,693.6 L955.5,695.5 L955.7,697.5 L955.9,699.6 L956.1,701.6 L956.2,703.6 L956.4,705.7 L956.6,707.8 L956.8,709.9 L957.0,712.0 L957.2,714.1 L957.4,716.2 L957.6,718.3 L957.7,720.3 L957.9,722.4 L958.1,724.5 L958.3,726.5 L958.5,728.5 L958.6,730.5 L958.8,732.5 L959.0,734.4 L959.1,736.4 L959.3,738.2 L959.4,740.1 L959.6,741.9 L959.7,743.6 L959.9,745.3 L960.0,747.0 L960.2,749.2 L960.3,751.2 L960.5,753.2 L960.6,755.1 L960.8,756.9 L960.9,758.6 L961.0,760.4 L961.1,762.1 L961.3,763.8 L961.4,765.6 L961.5,767.4 L961.6,769.2 L961.8,771.2 L961.9,773.2 L962.0,775.3 L962.2,777.6 L962.3,779.1 L962.4,780.7 L962.5,782.4 L962.6,784.1 L962.7,785.8 L962.8,787.5 L962.9,789.3 L963.0,791.2 L963.2,793.1 L963.3,795.0 L963.4,796.9 L963.5,798.9 L963.6,800.8 L963.7,802.8 L963.8,804.9 L964.0,806.9 L964.1,809.0 L964.2,811.0 L964.3,813.1 L964.4,815.2 L964.6,817.3 L964.7,819.4 L964.8,821.6 L964.9,823.7 L965.1,825.8 L965.2,827.9 L965.3,830.0 L965.5,832.1 L965.6,834.1 L965.7,836.2 L965.9,838.3 L966.0,840.3 L966.1,842.3 L966.3,844.3 L966.4,846.3 L966.6,848.2 L966.7,850.2 L966.9,852.0 L967.0,853.9 L967.2,856.0 L967.3,858.0 L967.5,860.0 L967.7,862.1 L967.8,864.1 L968.0,866.1 L968.2,868.1 L968.4,870.1 L968.5,872.1 L968.7,874.1 L968.9,876.1 L969.1,878.1 L969.3,880.0 L969.4,882.0 L969.6,884.0 L969.8,885.9 L970.0,887.8 L970.2,889.8 L970.4,891.7 L970.6,893.6 L970.8,895.5 L971.0,897.4 L971.2,899.3 L971.4,901.1 L971.6,903.0 L971.8,904.9 L972.0,906.7 L972.2,908.5 L972.5,910.4 L972.7,912.2 L972.9,914.0 L973.2,916.0 L973.4,918.0 L973.7,920.0 L974.0,922.0 L974.3,924.0 L974.5,925.9 L974.8,927.8 L975.1,929.7 L975.4,931.6 L975.7,933.5 L976.0,935.4 L976.3,937.3 L976.6,939.2 L976.9,941.0 L977.2,942.9 L977.5,944.8 L977.8,946.6 L978.1,948.5 L978.4,950.4 L978.7,952.2 L978.9,954.1 L979.2,956.0 L979.5,957.9 L979.7,959.8 L979.9,961.7 L980.2,963.6 L980.4,965.5 L980.6,967.4 L980.8,969.3 L981.0,971.2 L981.2,973.1 L981.4,975.1 L981.6,977.0 L981.8,978.9 L982.0,980.8 L982.1,982.7 L982.3,984.6 L982.5,986.5 L982.7,988.4 L982.8,990.3 L983.0,992.2 L983.2,994.2 L983.4,996.1 L983.6,998.0 L983.7,999.9 L983.9,1001.8 L984.1,1003.7 L984.3,1005.6 L984.5,1007.6 L984.7,1009.6 L984.9,1011.6 L985.1,1013.7 L985.3,1015.7 L985.5,1017.8 L985.7,1019.9 L985.9,1021.9 L986.1,1024.0 L986.3,1026.0 L986.5,1028.1 L986.8,1030.1 L987.0,1032.2 L987.2,1034.2 L987.4,1036.2 L987.6,1038.2 L987.8,1040.1 L988.0,1042.1 L988.1,1044.0 L988.3,1045.9 L988.5,1047.7 L988.7,1049.5 L988.9,1051.3 L989.1,1053.4 L989.3,1055.5 L989.6,1057.5 L989.8,1059.4 L990.0,1061.3 L990.2,1063.2 L990.4,1065.1 L990.6,1066.9 L990.8,1068.8 L991.0,1070.6 L991.2,1072.5 L991.4,1074.3 L991.6,1076.2 L991.8,1078.1 L992.0,1080.0 L992.2,1081.9 L992.4,1083.8 L992.6,1085.7 L992.7,1087.7 L992.9,1089.6 L993.1,1091.6 L993.2,1093.5 L993.4,1095.5 L993.6,1097.4 L993.8,1099.3 L994.0,1101.3 L994.1,1103.2 L994.3,1105.0 L994.6,1106.9 L994.8,1108.7 L995.0,1110.5 L995.3,1112.5 L995.5,1114.5 L995.8,1116.5 L996.1,1118.5 L996.4,1120.4 L996.7,1122.3 L997.0,1124.2 L997.4,1126.0 L997.7,1127.9 L998.1,1129.7 L998.5,1131.6 L998.9,1133.4 L999.4,1135.3 L999.9,1137.1 L1000.4,1139.0 L1000.9,1140.9 L1001.5,1142.7 L1002.0,1144.5 L1002.6,1146.3 L1003.2,1148.1 L1003.8,1149.8 L1004.4,1151.5 L1005.0,1153.2 L1005.6,1155.0 L1006.3,1156.8 L1007.0,1158.6 L1007.7,1160.3 L1008.4,1162.0 L1009.1,1163.7 L1009.8,1165.3 L1010.5,1166.9 L1011.1,1168.5 L1011.9,1170.4 L1012.8,1172.1 L1013.5,1173.8 L1014.3,1175.5 L1015.0,1177.3 L1015.7,1179.2 L1016.1,1180.9 L1016.5,1182.7 L1016.9,1184.6 L1017.2,1186.5 L1017.4,1188.4 L1017.7,1190.4 L1018.0,1192.3 L1018.3,1194.2 L1018.7,1196.0 L1019.1,1197.8 L1019.5,1199.6 L1019.9,1201.3 L1020.3,1203.0 L1020.8,1204.7 L1021.3,1206.4 L1021.8,1208.1 L1022.5,1209.7 L1023.2,1211.3 L1024.0,1212.8 L1024.8,1214.3 L1025.7,1215.8 L1026.6,1217.3 L1027.5,1218.8 L1028.5,1220.4 L1029.5,1221.9 L1030.3,1223.4 L1031.3,1225.0 L1032.2,1226.6 L1033.0,1228.3 L1034.1,1229.9 L1035.1,1231.4 L1036.3,1232.8 L1037.4,1234.3 L1038.7,1235.5 L1039.8,1237.1 L1041.4,1238.2 L1042.8,1239.5 L1044.5,1240.4 L1045.9,1241.7 L1047.4,1243.0 L1049.3,1243.6 L1050.8,1244.7 L1052.4,1245.7 L1053.7,1247.1 L1055.5,1247.8 L1057.1,1248.8 L1058.7,1249.8 L1060.2,1250.7 L1061.5,1252.0 L1062.7,1253.5 L1064.6,1252.8 L1066.3,1254.1 L1068.1,1254.1 L1069.9,1253.6 L1071.7,1253.9 L1073.6,1253.9 L1075.2,1253.6 L1077.1,1254.5 L1078.6,1252.5 L1080.5,1253.1 L1082.3,1252.8 L1084.0,1252.2 L1085.8,1252.5 L1087.5,1252.9 L1089.2,1252.9 L1090.8,1253.4 L1092.5,1253.9 L1094.5,1253.2 L1096.0,1255.0 L1098.0,1255.7 L1099.8,1255.3 L1101.6,1255.4 L1103.5,1254.4 L1105.4,1255.1 L1107.3,1254.8 L1109.3,1255.0 L1111.3,1255.7 L1113.4,1254.9 L1115.4,1255.3 L1117.4,1254.6 L1119.4,1255.4 L1121.3,1255.6 L1123.2,1255.4 L1125.2,1255.5 L1127.0,1256.8 L1129.1,1255.5 L1131.0,1255.7 L1132.9,1256.0 L1134.8,1257.0 L1136.7,1257.5 L1138.6,1256.9 L1140.5,1256.5 L1142.3,1256.8 L1144.4,1257.6 L1146.7,1257.0 L1148.8,1258.2 L1150.9,1258.4 L1153.1,1258.0 L1155.1,1258.4 L1157.0,1258.6 L1158.7,1259.1 L1160.2,1258.0 L1162.0,1259.1 L1163.5,1258.4 L1165.3,1258.2 L1166.6,1258.4 L1168.1,1258.0 L1169.7,1257.4 L1171.5,1256.8 L1173.4,1256.7 L1175.5,1257.3 L1177.6,1257.2 L1179.4,1256.3 L1181.4,1256.3 L1183.3,1255.4 L1185.1,1255.5 L1186.9,1255.7 L1188.7,1255.2 L1190.5,1255.5 L1192.1,1256.2 L1193.9,1256.3 L1195.7,1256.4 L1197.4,1257.3 L1199.3,1257.3 L1201.3,1258.1 L1203.4,1257.8 L1205.0,1257.7 L1206.7,1258.0 L1208.4,1257.9 L1210.2,1257.7 L1212.1,1257.9 L1214.0,1258.4 L1215.9,1258.4 L1217.9,1258.7 L1219.9,1257.3 L1221.9,1257.9 L1223.9,1257.8 L1226.0,1258.0 L1228.0,1257.7 L1230.0,1257.6 L1232.1,1258.0 L1234.0,1257.7 L1235.9,1256.9 L1237.9,1257.9 L1239.8,1257.6 L1241.6,1256.7 L1243.7,1257.1 L1245.6,1256.2 L1247.8,1256.7 L1249.7,1255.8 L1251.7,1255.2 L1253.7,1255.0 L1255.7,1254.5 L1257.7,1254.5 L1259.7,1254.1 L1261.6,1253.6 L1263.4,1253.0 L1265.0,1251.3 L1267.1,1252.6 L1268.7,1251.4 L1270.5,1252.0 L1272.2,1252.2 L1274.2,1251.5 L1276.1,1251.0 L1277.9,1250.9 L1279.7,1250.7 L1281.4,1250.4 L1283.2,1250.2 L1285.2,1249.9 L1287.3,1250.7 L1288.9,1250.1 L1290.7,1250.5 L1292.5,1249.9 L1294.5,1250.0 L1296.4,1249.9 L1298.5,1250.1 L1300.5,1250.3 L1302.6,1250.0 L1304.7,1249.6 L1306.7,1249.5 L1308.8,1250.6 L1310.8,1249.6 L1312.7,1249.6 L1314.5,1250.3 L1316.3,1250.0 L1317.9,1249.6 L1320.0,1249.0 L1322.2,1250.0 L1324.0,1248.9 L1325.9,1248.8 L1327.6,1248.2 L1329.3,1247.3 L1331.1,1247.0 L1333.1,1247.3 L1334.9,1246.8 L1336.5,1246.0 L1338.1,1245.2 L1339.7,1244.5 L1341.6,1244.3 L1343.1,1243.2 L1345.1,1243.4 L1346.9,1242.8 L1348.8,1242.8 L1350.2,1241.5 L1351.7,1240.3 L1353.4,1239.6 L1354.7,1238.0 L1356.8,1238.3 L1358.5,1237.8 L1360.4,1237.4 L1362.0,1236.6 L1363.7,1235.9 L1365.3,1235.0 L1367.1,1234.4 L1368.9,1233.9 L1370.2,1232.3 L1372.0,1231.7 L1373.6,1230.6 L1375.7,1230.8 L1377.4,1229.9 L1379.0,1229.0 L1380.4,1227.7 L1382.3,1227.4 L1383.9,1226.6 L1385.7,1225.9 L1387.3,1225.2 L1389.1,1224.7 L1390.7,1223.8 L1392.6,1223.6 L1394.2,1222.8 L1396.0,1222.0 L1397.9,1221.5 L1399.7,1220.9 L1401.7,1220.9 L1403.4,1220.0 L1405.4,1219.8 L1407.3,1219.1 L1409.3,1218.3 L1411.2,1219.0 L1412.9,1217.8 L1415.0,1218.3 L1416.9,1217.9 L1418.8,1216.7 L1420.9,1216.7 L1423.0,1216.7 L1424.9,1216.3 L1426.9,1215.9 L1428.9,1216.5 L1430.6,1215.9 L1432.3,1216.0 L1434.3,1215.4 L1436.2,1215.6 L1437.9,1215.0 L1439.6,1215.2 L1441.4,1215.3 L1443.1,1214.8 L1445.0,1214.3 L1446.6,1213.7 L1448.4,1213.8 L1450.1,1213.4 L1451.8,1212.6 L1453.5,1211.8 L1455.5,1211.8 L1457.6,1211.9 L1459.1,1210.3 L1461.0,1210.0 L1462.9,1209.6 L1464.5,1207.9 L1466.5,1208.7 L1468.3,1208.0 L1470.3,1208.6 L1472.1,1207.6 L1473.9,1207.0 L1475.9,1206.9 L1477.9,1206.7 L1479.8,1206.1 L1481.8,1205.8 L1483.7,1204.8 L1485.8,1204.7 L1487.6,1204.6 L1489.5,1204.4 L1491.2,1203.3 L1493.0,1202.5 L1495.0,1202.2 L1496.9,1201.4 L1498.9,1200.9 L1500.7,1199.9 L1502.5,1198.8 L1504.4,1198.1 L1506.2,1197.3 L1508.1,1196.5 L1509.8,1195.7 L1511.4,1194.6 L1512.9,1193.5 L1514.7,1193.1 L1516.0,1192.0 L1518.3,1191.6 L1520.1,1190.6 L1521.6,1189.1 L1523.6,1188.7 L1525.3,1187.7 L1526.7,1186.5 L1528.6,1185.8 L1530.2,1184.9 L1531.4,1183.1 L1533.4,1182.6 L1535.0,1181.5 L1536.7,1180.4 L1538.5,1179.5 L1539.9,1178.1 L1541.6,1177.1 L1543.3,1176.0 L1545.0,1175.1 L1546.8,1174.3 L1548.3,1173.0 L1550.0,1172.2 L1552.0,1171.8 L1553.6,1170.8 L1555.3,1170.1 L1556.7,1168.6 L1558.6,1168.1 L1560.3,1167.3 L1562.1,1166.7 L1563.7,1165.7 L1565.6,1165.4 L1567.2,1164.4 L1568.9,1163.7 L1570.6,1162.9 L1572.3,1162.4 L1573.9,1161.3 L1575.8,1161.0 L1577.4,1159.9 L1579.0,1159.0 L1580.6,1158.0 L1582.4,1157.2 L1584.1,1156.3 L1585.7,1155.3 L1587.3,1154.2 L1589.1,1153.4 L1590.7,1152.3 L1592.8,1151.8 L1594.2,1150.7 L1595.6,1149.4 L1597.7,1150.0 L1599.3,1149.0 L1600.9,1147.9 L1602.8,1147.7 L1604.5,1146.9 L1606.7,1147.5 L1608.4,1146.4 L1609.9,1145.0 L1612.0,1145.2 L1613.7,1144.3 L1615.7,1144.5 L1617.1,1142.8 L1618.7,1141.7 L1620.8,1141.7 L1622.5,1140.9 L1624.3,1140.1 L1625.8,1138.8 L1628.0,1138.9 L1629.9,1138.5 L1631.2,1136.6 L1633.3,1136.9 L1634.8,1135.7 L1637.0,1136.0 L1638.5,1134.8 L1640.3,1133.9 L1642.4,1133.9 L1644.4,1133.2 L1646.3,1132.2 L1648.4,1132.3 L1650.3,1131.4 L1652.1,1130.4 L1654.3,1131.5 L1655.8,1130.0 L1657.4,1129.4 L1659.0,1129.1 L1660.4,1127.7 L1661.9,1126.9 L1663.2,1126.0 L1664.5,1125.0 L1665.9,1124.1 L1667.7,1123.6 L1669.0,1122.5 L1670.9,1122.3 L1672.8,1121.9 L1674.7,1120.7 L1676.8,1120.9 L1678.7,1120.0 L1680.8,1120.5 L1682.6,1119.9 L1684.2,1119.4 L1686.0,1118.5 L1687.8,1118.7 L1689.3,1118.1 L1691.2,1118.5 L1693.4,1117.8 L1694.7,1117.4 L1696.2,1118.1 L1697.9,1117.9 L1699.6,1117.3 L1701.5,1118.0 L1703.4,1117.4 L1705.4,1117.3 L1707.5,1117.5 L1709.6,1117.1 L1711.8,1117.2 L1713.9,1117.3 L1716.1,1118.0 L1718.3,1118.0 L1720.4,1117.1 L1722.5,1117.9 L1724.5,1117.0 L1726.4,1117.1 L1728.3,1117.2 L1730.0,1116.7 L1731.8,1117.4 L1733.7,1116.1 L1735.5,1115.1 L1737.6,1115.6 L1739.2,1114.5 L1740.9,1114.0 L1742.3,1112.4 L1744.4,1113.4 L1746.2,1112.9 L1748.0,1112.5 L1750.0,1112.2 L1751.8,1112.3 L1753.5,1111.3 L1755.4,1111.6 L1757.3,1110.7 L1759.3,1110.8 L1761.3,1111.4 L1763.3,1111.0 L1765.3,1110.2 L1767.3,1110.9 L1769.4,1110.6 L1771.4,1110.2 L1773.4,1110.7 L1775.3,1110.2 L1777.3,1109.6 L1779.2,1109.7 L1781.2,1110.8 L1783.1,1109.2 L1785.2,1109.9 L1787.2,1109.9 L1789.2,1109.8 L1791.1,1108.8 L1793.1,1109.0 L1795.0,1109.1 L1796.9,1109.2 L1798.6,1108.4 L1800.2,1107.9 L1801.9,1108.7 L1803.4,1108.5 L1805.4,1107.7 L1807.1,1106.8 L1808.9,1106.6 L1810.5,1106.0 L1812.4,1106.1 L1814.1,1105.1 L1815.8,1105.9 L1817.7,1106.0 L1819.6,1106.0 L1821.5,1106.9 L1823.5,1107.1 L1825.6,1107.1 L1827.7,1107.5 L1829.3,1106.6 L1831.1,1107.0 L1833.0,1107.0 L1834.8,1106.6 L1836.8,1106.5 L1838.6,1105.2 L1840.5,1104.7 L1842.6,1105.0 L1844.6,1104.7 L1846.7,1105.0 L1848.4,1104.1 L1850.2,1103.2 L1852.0,1103.8 L1853.6,1103.0 L1855.8,1102.9 L1857.5,1104.9 L1859.6,1104.4 L1861.4,1105.0 L1863.3,1105.4 L1865.1,1106.3 L1867.0,1105.8 L1868.9,1106.2 L1870.7,1105.0 L1872.5,1104.5 L1874.6,1104.9 L1876.4,1104.2 L1878.2,1103.2 L1880.0,1102.4 L1882.1,1101.7 L1884.1,1100.9 L1885.9,1101.6 L1887.6,1101.0 L1889.4,1100.8 L1891.2,1100.6 L1893.1,1100.8 L1895.1,1100.4 L1897.0,1100.4 L1899.0,1099.5 L1901.0,1100.2 L1903.1,1100.9 L1905.1,1099.7 L1907.1,1099.8 L1909.1,1100.2 L1911.1,1100.1 L1913.0,1099.9"/>
<path stroke="#000000" d="M234.0,264.4 L236.0,265.7 L238.0,264.7 L240.0,264.9 L242.0,265.7 L244.0,265.2 L246.0,265.9 L248.1,267.3 L250.1,265.8 L252.1,265.8 L254.1,264.8 L256.1,265.0 L258.1,264.7 L260.1,265.0 L262.2,264.7 L264.2,264.9 L266.2,265.2 L268.2,264.7 L270.2,264.5 L272.2,264.5 L274.2,265.6 L276.2,265.3 L278.2,265.9 L280.2,265.9 L282.2,265.1 L284.2,265.7 L286.2,264.5 L288.2,266.7 L290.2,266.1 L292.1,265.2 L294.1,264.7 L296.1,265.6 L298.1,264.3 L300.0,264.9 L302.0,265.9 L304.0,265.5 L306.0,265.2 L308.0,266.1 L310.0,264.9 L312.0,265.8 L314.0,265.4 L316.0,265.2 L318.0,266.0 L320.0,265.2 L322.0,267.0 L324.0,265.6 L325.9,267.2 L328.0,265.4 L329.9,266.5 L331.9,265.4 L333.9,265.4 L335.8,266.4 L337.8,266.7 L339.7,265.6 L341.6,267.1 L343.6,266.0 L345.4,266.5 L347.3,266.7 L349.2,266.9 L351.1,265.5 L352.9,267.5 L354.7,266.9 L356.5,266.3 L358.2,265.9 L360.0,265.5 L362.1,265.6 L364.2,266.7 L366.2,266.1 L368.2,265.6 L370.2,265.9 L372.3,267.0 L374.2,265.8 L376.2,265.5 L378.2,266.6 L380.1,265.9 L382.0,265.6 L383.8,265.1 L385.7,264.4 L387.5,264.5 L389.4,264.8 L391.2,264.8 L393.0,265.1 L394.8,265.1 L396.5,264.8 L398.3,264.7 L400.0,263.9 L402.0,263.1 L404.2,264.0 L406.2,263.6 L408.3,263.7 L410.3,263.8 L412.3,263.1 L414.2,263.0 L416.2,263.5 L418.1,263.6 L419.9,263.1 L421.7,263.7 L423.4,263.3 L425.1,262.9 L426.7,263.6 L428.6,264.9 L430.6,263.8 L432.0,265.2 L433.6,265.7 L435.3,266.2 L437.6,265.2 L439.9,267.2 L441.2,266.2 L442.5,266.0 L443.8,266.1 L445.2,266.7 L446.8,266.4 L448.4,266.3 L450.0,267.2 L451.8,266.1 L453.6,265.9 L455.4,267.0 L457.3,267.0 L459.3,267.3 L461.3,266.0 L463.4,267.3 L465.5,266.9 L467.6,267.6 L469.8,265.8 L471.9,266.7 L474.1,266.4 L476.4,265.6 L478.6,266.0 L480.9,267.1 L483.1,266.1 L485.4,265.9 L487.6,266.8 L489.9,266.9 L492.1,266.8 L494.3,265.7 L496.6,266.1 L498.7,266.7 L500.9,265.7 L503.0,265.6 L505.1,266.4 L507.2,266.8 L509.1,265.2 L511.1,264.3 L513.0,264.9 L514.8,265.1 L516.6,265.6 L518.4,266.0 L520.0,265.5 L522.2,265.1 L524.3,265.6 L526.4,264.8 L528.5,265.3 L530.5,264.9 L532.5,266.8 L534.4,265.6 L536.2,264.5 L538.1,264.4 L539.9,264.6 L541.7,263.8 L543.6,264.3 L545.4,264.2 L547.2,265.1 L549.0,264.2 L550.8,263.9 L552.5,263.5 L554.4,263.5 L556.2,264.1 L558.1,263.9 L560.0,264.7 L561.9,263.6 L563.8,264.5 L565.7,264.0 L567.6,263.8 L569.4,262.5 L571.3,262.9 L573.2,264.0 L575.1,264.4 L576.9,263.6 L578.8,263.9 L580.7,263.1 L582.5,263.1 L584.4,262.9 L586.3,263.8 L588.3,263.4 L590.2,263.0 L592.1,262.9 L594.1,263.4 L596.0,263.3 L598.0,262.5 L600.0,264.0 L601.8,263.1 L603.7,263.0 L605.5,263.8 L607.4,263.5 L609.3,262.9 L611.2,263.2 L613.1,262.3 L615.0,262.5 L616.9,261.5 L618.8,263.6 L620.8,261.7 L622.7,263.3 L624.7,262.4 L626.6,262.3 L628.6,262.8 L630.5,263.0 L632.5,263.2 L634.4,263.9 L636.4,263.1 L638.3,263.4 L640.3,262.5 L642.3,263.3 L644.2,262.9 L646.1,262.6 L648.1,262.8 L650.0,262.8 L651.9,262.9 L653.9,263.0 L655.8,262.4 L657.7,262.3 L659.7,263.1 L661.6,261.6 L663.5,262.3 L665.5,263.5 L667.4,261.0 L669.3,262.1 L671.3,262.9 L673.2,261.5 L675.2,264.0 L677.1,260.9 L679.0,263.2 L681.0,263.3 L682.9,262.9 L684.8,262.2 L686.7,262.5 L688.6,261.7 L690.6,262.7 L692.4,261.5 L694.3,261.9 L696.3,262.7 L698.1,261.4 L700.0,261.8 L702.0,262.1 L704.1,261.1 L706.2,262.6 L708.3,262.0 L710.4,260.9 L712.5,261.7 L714.6,261.3 L716.8,261.3 L718.9,261.7 L721.0,261.2 L723.1,262.1 L725.2,261.1 L727.2,262.1 L729.3,261.4 L731.2,261.9 L733.1,261.0 L735.0,261.0 L736.8,260.5 L738.6,261.5 L740.4,261.7 L742.0,262.4 L743.6,261.8 L745.0,261.1 L747.3,260.8 L749.4,261.1 L751.4,260.8 L753.4,261.6 L755.1,261.2 L756.8,260.0 L758.4,260.0 L760.1,261.1 L762.1,260.2 L763.8,259.5 L765.7,260.1 L767.5,259.1 L769.2,259.3 L771.0,259.4 L773.0,259.0 L774.5,260.9 L776.5,260.4 L778.1,261.2 L779.9,261.9 L781.3,263.3 L783.0,263.9 L784.5,264.8 L786.3,264.9 L787.8,266.5 L789.6,266.8 L791.0,268.0 L792.5,267.6 L794.0,266.6 L795.9,266.1 L797.1,264.6 L798.5,263.6 L799.8,262.4 L801.2,261.2 L803.2,261.0 L804.6,260.8 L806.0,259.2 L807.9,260.5 L809.7,260.1 L811.7,260.4 L813.7,260.2 L815.9,259.3 L817.9,259.4 L820.0,261.3 L821.8,260.4 L823.6,259.5 L825.5,260.6 L827.4,260.2 L829.4,259.5 L831.4,259.3 L833.4,259.8 L835.3,261.1 L837.3,261.0 L839.3,261.0 L841.2,261.4 L843.1,261.8 L845.1,260.2 L847.1,261.4 L849.2,261.2 L851.4,261.0 L853.5,261.5 L855.7,261.8 L857.7,261.8 L859.8,261.2 L861.7,261.9 L863.4,263.6 L865.3,262.0 L867.0,261.9 L868.5,263.4 L869.9,264.0 L871.3,264.5 L873.0,264.1 L874.5,265.6 L876.1,264.5 L877.8,264.1 L879.7,264.1 L881.7,264.0 L883.8,264.0 L885.9,263.5 L887.9,262.8 L890.1,263.0 L891.7,262.4 L893.6,262.8 L895.4,261.3 L897.3,261.1 L899.4,262.5 L901.3,261.1 L903.3,261.7 L905.2,261.8 L907.2,261.5 L909.0,261.4 L910.9,262.3 L912.4,259.8 L914.7,261.5 L916.9,261.8 L918.4,260.1 L920.3,259.6 L922.2,259.6 L924.1,259.8 L925.8,257.7 L927.9,258.3 L929.6,258.0 L931.4,258.4 L933.2,258.2 L935.1,258.6 L937.0,258.1 L938.9,258.5 L940.9,258.3 L942.8,258.5 L944.6,259.0 L946.5,259.1 L948.3,258.7 L949.9,260.4 L952.0,259.5 L954.0,258.8 L956.0,260.3 L958.0,259.2 L959.8,260.0 L961.6,259.8 L963.3,260.1 L964.7,260.3 L966.1,260.2 L967.5,261.1 L968.3,262.2 L969.8,262.9 L970.1,264.3 L970.5,265.9 L970.7,267.9 L970.9,269.9 L971.0,272.0 L971.1,274.0 L971.4,275.8 L971.7,277.7 L972.0,279.6 L972.4,281.4 L972.9,283.2 L973.5,284.9 L974.5,286.5 L975.7,288.1 L977.1,289.7 L978.3,291.3 L979.8,292.7 L981.4,293.9 L982.6,295.1 L983.7,296.4 L985.2,297.4 L986.4,298.5 L987.8,299.6 L988.9,301.0 L990.1,302.4 L991.4,303.8 L992.8,305.0 L993.9,306.7 L995.5,307.9 L996.4,309.7 L998.0,311.0 L999.2,312.4 L1000.5,313.7 L1001.9,314.9 L1002.8,316.7 L1003.9,318.2 L1004.8,319.9 L1006.2,321.3 L1007.0,323.1 L1008.2,324.5 L1009.1,326.2 L1010.2,327.7 L1011.0,329.5 L1011.9,331.2 L1012.7,333.0 L1013.7,334.7 L1014.6,336.4 L1015.4,338.2 L1016.4,339.9 L1017.3,341.6 L1018.2,343.2 L1019.1,344.9 L1020.1,346.5 L1021.1,348.1 L1022.0,349.7 L1022.8,351.5 L1023.7,353.2 L1024.6,354.9 L1025.5,356.7 L1026.2,358.3 L1027.0,360.0 L1027.7,361.7 L1028.5,363.4 L1029.1,365.2 L1029.9,367.0 L1030.6,368.8 L1031.3,370.6 L1032.0,372.4 L1032.7,374.2 L1033.4,376.0 L1034.0,377.8 L1034.7,379.5 L1035.4,381.3 L1036.1,383.1 L1036.7,384.8 L1037.3,386.6 L1037.9,388.4 L1038.6,390.1 L1039.2,391.8 L1039.8,393.6 L1040.5,395.4 L1041.1,397.2 L1041.7,399.0 L1042.3,400.9 L1042.9,402.7 L1043.4,404.5 L1044.0,406.4 L1044.5,408.4 L1045.1,410.3 L1045.6,412.3 L1046.2,414.2 L1046.7,416.2 L1047.2,418.1 L1047.8,420.0 L1048.3,421.8 L1048.8,423.5 L1049.4,425.2 L1049.9,426.8 L1050.6,428.7 L1051.2,430.4 L1051.8,432.0 L1052.5,433.5 L1053.2,435.0 L1053.8,436.6 L1054.5,438.2 L1055.3,440.0 L1055.9,441.6 L1056.6,443.2 L1057.3,444.8 L1058.0,446.6 L1058.7,448.4 L1059.4,450.1 L1060.1,452.0 L1060.9,453.8 L1061.6,455.6 L1062.4,457.5 L1063.1,459.3 L1063.7,461.1 L1064.4,462.9 L1065.0,464.7 L1065.6,466.4 L1066.3,468.2 L1066.9,469.9 L1067.5,471.7 L1068.1,473.4 L1068.7,475.2 L1069.2,477.0 L1069.8,478.7 L1070.3,480.5 L1070.9,482.3 L1071.5,484.0 L1072.0,485.8 L1072.6,487.7 L1073.1,489.6 L1073.6,491.5 L1074.2,493.4 L1074.7,495.3 L1075.2,497.2 L1075.7,499.1 L1076.2,501.0 L1076.7,503.0 L1077.2,504.9 L1077.6,506.8 L1078.1,508.7 L1078.5,510.6 L1078.9,512.5 L1079.3,514.4 L1079.7,516.3 L1080.1,518.2 L1080.5,520.1 L1080.9,522.1 L1081.2,524.0 L1081.6,525.9 L1081.9,527.8 L1082.3,529.7 L1082.7,531.6 L1083.1,533.5 L1083.5,535.4 L1083.8,537.3 L1084.2,539.2 L1084.6,541.1 L1085.0,543.1 L1085.4,545.0 L1085.8,546.9 L1086.2,548.8 L1086.5,550.7 L1086.9,552.6 L1087.3,554.5 L1087.7,556.4 L1088.1,558.3 L1088.5,560.2 L1088.9,562.1 L1089.3,564.0 L1089.6,565.9 L1090.0,567.8 L1090.4,569.7 L1090.8,571.6 L1091.2,573.5 L1091.5,575.4 L1091.9,577.3 L1092.2,579.2 L1092.6,581.1 L1092.9,583.0 L1093.2,584.9 L1093.5,586.8 L1093.8,588.8 L1094.1,590.7 L1094.4,592.6 L1094.7,594.5 L1095.0,596.4 L1095.3,598.3 L1095.7,600.2 L1096.1,602.1 L1096.5,604.0 L1096.9,605.9 L1097.4,607.8 L1097.8,609.8 L1098.3,611.7 L1098.7,613.6 L1099.2,615.5 L1099.6,617.4 L1100.1,619.3 L1100.6,621.2 L1101.0,623.1 L1101.5,625.0 L1101.9,626.9 L1102.3,628.8 L1102.8,630.8 L1103.2,632.7 L1103.7,634.6 L1104.1,636.5 L1104.6,638.4 L1105.0,640.3 L1105.5,642.2 L1105.9,644.1 L1106.4,646.0 L1106.9,647.8 L1107.3,649.7 L1107.7,651.5 L1108.2,653.4 L1108.6,655.2 L1109.1,657.0 L1109.5,658.8 L1110.0,660.7 L1110.5,662.5 L1111.0,664.3 L1111.5,666.2 L1112.0,668.0 L1112.5,669.7 L1113.1,671.5 L1113.6,673.3 L1114.1,675.0 L1114.7,676.8 L1115.3,678.6 L1115.9,680.3 L1116.5,682.1 L1117.1,683.8 L1117.6,685.6 L1118.2,687.4 L1118.8,689.1 L1119.4,690.9 L1120.0,692.7 L1120.6,694.4 L1121.2,696.2 L1121.7,697.9 L1122.3,699.7 L1123.0,701.5 L1123.5,703.2 L1124.1,705.0 L1124.7,706.7 L1125.3,708.5 L1125.9,710.3 L1126.5,712.0 L1127.0,713.8 L1127.6,715.7 L1128.1,717.6 L1128.7,719.5 L1129.3,721.4 L1129.8,723.3 L1130.4,725.3 L1130.9,727.2 L1131.5,729.1 L1132.0,731.0 L1132.6,732.9 L1133.2,734.8 L1133.8,736.7 L1134.4,738.5 L1135.0,740.2 L1135.6,742.0 L1136.2,743.8 L1136.9,745.5 L1137.5,747.3 L1138.2,749.0 L1138.9,750.8 L1139.5,752.6 L1140.2,754.3 L1140.9,756.1 L1141.6,757.8 L1142.2,759.6 L1142.9,761.4 L1143.6,763.2 L1144.2,765.0 L1144.9,766.8 L1145.6,768.7 L1146.3,770.5 L1147.0,772.3 L1147.7,774.1 L1148.3,775.9 L1149.2,777.6 L1149.9,779.3 L1150.6,780.9 L1151.5,782.5 L1152.4,784.4 L1153.4,786.1 L1154.3,787.9 L1155.6,789.4 L1156.6,791.1 L1157.6,792.8 L1158.7,794.4 L1159.8,796.0 L1160.6,797.7 L1161.4,799.4 L1162.1,801.0 L1162.8,802.7 L1163.5,804.3 L1164.2,806.0 L1164.8,807.7 L1165.5,809.4 L1166.1,811.2 L1166.7,813.0 L1167.3,814.7 L1167.9,816.4 L1168.5,818.2 L1169.0,820.0 L1169.6,821.9 L1170.2,823.7 L1170.7,825.5 L1171.3,827.4 L1171.8,829.2 L1172.3,831.0 L1172.8,832.8 L1173.3,834.6 L1173.8,836.5 L1174.2,838.3 L1174.7,840.1 L1175.1,841.9 L1175.5,843.7 L1176.0,845.5 L1176.4,847.3 L1176.8,849.2 L1177.3,851.1 L1177.8,852.9 L1178.2,854.9 L1178.7,856.8 L1179.2,858.8 L1179.6,860.9 L1180.1,862.9 L1180.6,864.9 L1181.1,866.9 L1181.5,868.8 L1181.9,870.6 L1182.3,872.4 L1182.7,874.0 L1183.2,876.0 L1183.5,877.8 L1183.9,879.5 L1184.2,881.1 L1184.6,882.9 L1185.0,885.0 L1185.3,886.6 L1185.7,888.3 L1186.0,890.1 L1186.4,892.0 L1186.8,893.9 L1187.2,895.9 L1187.6,898.0 L1188.0,900.0 L1188.4,902.1 L1188.8,904.2 L1189.2,906.3 L1189.6,908.4 L1190.0,910.5 L1190.4,912.3 L1190.7,914.2 L1191.1,916.1 L1191.5,918.0 L1191.8,919.9 L1192.2,921.8 L1192.6,923.7 L1193.0,925.7 L1193.4,927.6 L1193.8,929.6 L1194.2,931.5 L1194.5,933.4 L1194.9,935.3 L1195.3,937.2 L1195.7,939.1 L1196.1,941.0 L1196.5,942.9 L1196.9,944.8 L1197.3,946.6 L1197.7,948.5 L1198.1,950.3 L1198.5,952.2 L1198.9,954.0 L1199.3,955.9 L1199.7,957.7 L1200.1,959.5 L1200.5,961.3 L1201.0,963.1 L1201.4,964.9 L1201.8,966.7 L1202.2,968.5 L1202.7,970.4 L1203.1,972.3 L1203.5,974.2 L1204.0,976.1 L1204.4,978.0 L1204.8,979.9 L1205.3,981.8 L1205.7,983.6 L1206.2,985.5 L1206.7,987.3 L1207.2,989.2 L1207.7,991.0 L1208.3,992.9 L1208.9,994.7 L1209.4,996.4 L1210.1,998.2 L1210.7,999.9 L1211.3,1001.7 L1212.0,1003.5 L1212.7,1005.2 L1213.4,1006.9 L1214.1,1008.7 L1214.7,1010.4 L1215.4,1012.1 L1216.1,1013.9 L1216.9,1015.6 L1217.6,1017.3 L1218.2,1019.1 L1218.9,1020.9 L1219.6,1022.6 L1220.4,1024.4 L1221.1,1026.2 L1221.8,1027.9 L1222.5,1029.7 L1223.2,1031.4 L1224.0,1033.2 L1224.7,1034.9 L1225.4,1036.6 L1226.1,1038.4 L1226.7,1040.2 L1227.3,1042.0 L1228.0,1043.7 L1228.6,1045.5 L1229.2,1047.3 L1229.8,1049.1 L1230.4,1050.9 L1230.9,1052.7 L1231.5,1054.5 L1232.1,1056.3 L1232.7,1058.0 L1233.2,1059.7 L1233.7,1061.4 L1234.3,1063.1 L1234.9,1064.9 L1235.5,1066.7 L1236.1,1068.5 L1236.6,1070.2 L1237.2,1071.9 L1237.7,1073.6 L1238.3,1075.3 L1238.9,1077.0 L1239.5,1078.8 L1240.2,1080.5 L1240.9,1082.2 L1241.7,1083.9 L1242.5,1085.7 L1243.3,1087.4 L1244.2,1089.1 L1245.0,1090.9 L1245.8,1092.7 L1246.7,1094.4 L1247.5,1096.2 L1248.4,1098.0 L1249.2,1099.8 L1249.9,1101.5 L1250.6,1103.2 L1251.4,1105.0 L1252.1,1106.8 L1252.8,1108.6 L1253.5,1110.4 L1254.3,1112.1 L1255.0,1114.0 L1255.7,1115.7 L1256.3,1117.5 L1257.0,1119.3 L1257.7,1121.0 L1258.3,1122.7 L1259.0,1124.6 L1259.6,1126.6 L1260.2,1128.5 L1260.8,1130.4 L1261.4,1132.3 L1262.0,1134.2 L1262.6,1136.0 L1263.2,1137.7 L1263.9,1139.4 L1264.5,1141.0 L1265.3,1142.7 L1266.1,1144.3 L1266.9,1145.8 L1267.8,1147.3 L1268.6,1148.8 L1269.6,1150.2 L1270.6,1151.7 L1271.7,1153.0 L1272.8,1154.3 L1273.9,1155.8 L1275.2,1157.0 L1276.5,1158.3 L1277.7,1159.8 L1278.7,1161.3 L1280.0,1162.6 L1281.0,1164.0 L1282.4,1165.4 L1283.7,1166.9 L1285.0,1168.4 L1286.1,1170.0 L1287.0,1171.7 L1288.2,1173.2 L1289.3,1174.7 L1290.3,1176.1 L1291.5,1177.7 L1292.5,1179.3 L1293.4,1180.8 L1294.3,1182.4 L1295.3,1183.9 L1296.4,1185.3 L1297.7,1186.7 L1299.1,1187.9 L1300.3,1189.2 L1301.8,1190.4 L1302.9,1192.0 L1304.7,1192.8 L1305.7,1194.5 L1306.7,1196.2 L1308.2,1197.5 L1309.5,1199.1 L1310.7,1200.7 L1311.7,1202.4 L1313.3,1203.4 L1314.7,1204.6 L1316.4,1205.1 L1318.1,1205.3 L1319.6,1207.6 L1321.6,1205.9 L1323.5,1205.6 L1325.3,1205.6 L1327.0,1206.1 L1328.9,1206.0 L1330.7,1205.8 L1332.4,1205.0 L1334.1,1203.7 L1336.0,1204.6 L1337.7,1204.2 L1339.5,1204.7 L1341.5,1205.0 L1343.1,1206.4 L1344.9,1207.4 L1346.5,1208.7 L1348.7,1209.2 L1350.0,1210.5 L1351.6,1211.4 L1353.5,1211.8 L1355.1,1212.9 L1356.8,1213.7 L1358.2,1215.3 L1360.6,1214.8 L1361.9,1216.4 L1363.9,1216.6 L1365.6,1217.8 L1367.3,1219.1 L1369.5,1218.9 L1371.3,1219.9 L1373.4,1219.9 L1374.9,1221.8 L1376.9,1221.8 L1378.7,1222.5 L1381.0,1221.9 L1382.7,1222.7 L1384.1,1224.4 L1386.1,1224.5 L1387.8,1225.0 L1389.4,1225.7 L1391.1,1224.9 L1393.1,1225.9 L1394.8,1224.9 L1396.7,1224.3 L1398.3,1223.2 L1400.3,1223.7 L1402.1,1223.3 L1403.6,1224.6 L1405.4,1225.3 L1407.3,1226.0 L1409.1,1226.8 L1410.8,1227.9 L1413.0,1228.2 L1413.7,1230.1 L1415.0,1231.4 L1416.0,1233.0 L1417.1,1234.6 L1418.2,1236.2 L1419.2,1237.8 L1420.2,1239.2 L1421.3,1240.6 L1423.4,1240.8 L1425.1,1241.2 L1426.6,1242.9 L1428.7,1241.9 L1430.2,1243.9 L1432.3,1243.3 L1434.3,1243.6 L1435.9,1245.1 L1437.6,1246.2 L1440.0,1245.6 L1441.2,1247.6 L1443.1,1247.4 L1444.3,1248.8 L1446.0,1248.6 L1447.7,1248.2 L1449.1,1249.3 L1450.7,1249.1 L1452.6,1249.0 L1454.4,1248.2 L1456.1,1247.1 L1457.8,1246.1 L1459.8,1245.7 L1461.5,1245.8 L1463.2,1245.6 L1465.0,1246.1 L1467.0,1245.1 L1468.6,1247.0 L1470.5,1247.2 L1472.2,1249.0 L1474.3,1248.3 L1476.3,1247.8 L1478.2,1248.6 L1480.0,1247.6 L1481.9,1248.0 L1483.8,1247.3 L1485.8,1249.2 L1487.8,1248.6 L1489.7,1247.5 L1491.7,1248.0 L1493.7,1248.6 L1495.6,1248.3 L1497.4,1248.3 L1499.3,1247.6 L1501.0,1247.9 L1503.0,1248.7 L1504.9,1249.6 L1507.0,1249.2 L1508.8,1249.6 L1510.3,1251.4 L1512.4,1250.8 L1514.1,1252.4 L1516.3,1252.2 L1518.0,1252.8 L1519.7,1253.4 L1521.5,1252.9 L1523.4,1253.0 L1525.2,1252.0 L1527.1,1252.1 L1529.0,1252.8 L1531.0,1253.3 L1533.0,1253.1 L1535.0,1253.6 L1537.1,1252.3 L1539.2,1252.2 L1540.9,1252.7 L1542.7,1252.0 L1544.6,1251.9 L1546.4,1251.2 L1548.5,1252.3 L1550.4,1250.9 L1552.5,1251.7 L1554.5,1250.4 L1556.7,1251.8 L1558.7,1250.4 L1560.8,1251.4 L1562.8,1249.8 L1564.8,1250.4 L1566.9,1251.3 L1568.8,1250.0 L1570.6,1250.5 L1572.4,1250.1 L1574.2,1249.1 L1575.8,1250.7 L1577.3,1250.9 L1579.6,1250.2 L1581.4,1251.5 L1583.4,1251.2 L1585.1,1251.6 L1586.7,1252.6 L1588.5,1252.6 L1590.2,1254.7 L1592.7,1252.7 L1594.1,1254.1 L1595.7,1254.3 L1597.4,1252.5 L1599.2,1252.6 L1601.0,1253.9 L1602.9,1253.1 L1604.9,1253.5 L1606.9,1253.8 L1608.8,1252.7 L1610.8,1252.1 L1612.8,1251.0 L1615.0,1252.5 L1617.0,1251.7 L1619.1,1252.2 L1621.2,1252.0 L1623.1,1250.9 L1625.2,1252.6 L1627.1,1252.1 L1629.0,1251.9 L1630.8,1250.7 L1632.8,1251.2 L1634.8,1251.1 L1636.7,1251.3 L1638.6,1250.9 L1640.5,1252.0 L1642.3,1252.0 L1644.2,1252.2 L1646.1,1251.8 L1647.8,1253.0 L1649.8,1252.5 L1651.7,1250.9 L1653.5,1252.3 L1655.4,1252.7 L1657.3,1253.4 L1659.3,1252.7 L1661.3,1252.7 L1663.1,1252.5 L1664.9,1253.3 L1666.8,1252.6 L1668.6,1252.4 L1670.5,1252.3 L1672.4,1253.0 L1674.3,1252.2 L1676.1,1251.5 L1678.1,1252.7 L1680.0,1251.8 L1681.9,1252.4 L1683.9,1252.3 L1685.8,1252.7 L1687.8,1252.5 L1689.7,1251.4 L1691.6,1251.6 L1693.5,1250.8 L1695.6,1252.5 L1697.5,1251.7 L1699.4,1252.2 L1701.3,1251.2 L1703.2,1250.1 L1705.2,1252.2 L1707.2,1251.3 L1709.2,1251.4 L1711.2,1251.3 L1713.2,1251.6 L1715.2,1251.6 L1717.2,1250.3 L1719.2,1251.9 L1721.2,1250.9 L1723.2,1251.0 L1725.2,1252.3 L1727.2,1251.8 L1729.1,1251.1 L1731.1,1250.2 L1732.9,1251.4 L1734.8,1251.7 L1736.6,1251.3 L1738.4,1250.6 L1740.2,1250.9 L1742.3,1250.7 L1744.3,1251.6 L1746.2,1251.9 L1748.1,1252.1 L1749.9,1251.1 L1751.7,1251.7 L1753.5,1251.9 L1755.3,1251.3 L1757.1,1251.5 L1759.0,1252.9 L1760.9,1251.8 L1762.8,1252.3 L1764.9,1251.6 L1767.0,1251.9 L1768.8,1250.9 L1770.6,1252.0 L1772.5,1252.9 L1774.5,1253.5 L1776.6,1253.1 L1778.7,1253.0 L1780.9,1252.8 L1783.1,1252.5 L1785.3,1252.9 L1787.4,1253.6 L1789.7,1252.9 L1791.8,1254.1 L1794.1,1253.1 L1796.3,1252.7 L1798.4,1253.3 L1800.4,1253.1 L1802.4,1253.4 L1804.3,1254.9 L1806.2,1254.2 L1808.0,1254.5 L1809.7,1255.1 L1811.3,1255.2 L1812.8,1254.1 L1815.0,1255.2 L1817.2,1254.6 L1819.2,1254.4 L1821.1,1254.6 L1822.8,1253.4 L1824.4,1253.5 L1825.8,1253.5 L1827.1,1253.0 L1828.0,1251.5 L1828.6,1249.6 L1829.1,1247.8 L1830.3,1246.6 L1831.5,1246.0 L1833.1,1246.0 L1834.7,1244.8 L1836.7,1244.7 L1838.7,1245.0 L1840.7,1244.6 L1842.6,1244.3 L1844.5,1245.0 L1845.9,1243.5 L1847.3,1242.4 L1849.1,1242.0 L1850.8,1241.7 L1852.0,1240.5 L1853.5,1240.9 L1855.1,1240.2 L1856.6,1240.8 L1858.2,1241.7 L1859.6,1242.8 L1860.8,1244.5 L1863.1,1244.2 L1864.5,1246.1 L1866.5,1245.1 L1868.2,1245.8 L1870.0,1246.6 L1872.0,1246.6 L1873.9,1246.5 L1876.0,1245.3 L1878.0,1246.5 L1880.0,1245.7 L1882.0,1247.8 L1884.0,1246.2 L1885.9,1246.4 L1887.8,1245.6 L1889.8,1246.0 L1891.7,1245.4 L1893.8,1246.7 L1895.7,1245.9 L1897.6,1246.3 L1899.4,1245.4 L1901.2,1245.4 L1902.9,1246.3 L1904.2,1244.8 L1906.3,1243.9 L1908.5,1244.5 L1910.0,1243.2 L1911.9,1243.0"/>
<path stroke="#ff0000" d="M234.0,324.7 L236.0,323.8 L238.2,324.7 L240.3,323.8 L241.9,325.3 L243.5,325.6 L244.6,326.6 L245.2,328.5 L245.5,330.7 L245.7,333.0 L246.1,335.1 L246.9,336.8 L247.7,338.3 L249.1,339.5 L250.4,340.7 L251.9,341.0 L252.9,343.4 L254.4,341.8 L256.0,340.9 L257.5,339.4 L259.3,338.3 L260.2,336.6 L261.7,335.2 L262.8,333.5 L263.6,331.8 L265.0,330.7 L266.5,330.8 L268.4,330.1 L270.3,331.0 L272.2,332.0 L274.2,331.8 L275.9,331.6 L277.2,330.4 L278.4,329.0 L279.4,327.4 L280.8,326.0 L282.0,324.8 L283.5,323.6 L284.8,321.8 L287.2,322.7 L289.1,322.2 L290.9,321.0 L292.7,320.2 L294.5,321.0 L296.2,322.4 L298.2,321.6 L299.9,322.2 L301.6,322.7 L303.4,322.9 L304.9,321.5 L306.3,320.3 L307.6,318.9 L309.5,318.2 L311.0,317.4 L312.4,316.5 L314.1,315.6 L315.9,316.0 L317.7,316.9 L319.6,316.1 L321.6,316.7 L323.2,315.9 L324.8,315.2 L326.6,314.6 L328.2,313.7 L329.7,312.4 L331.6,311.7 L333.8,311.8 L334.9,309.6 L336.7,309.1 L338.7,309.1 L340.2,307.9 L341.7,307.0 L343.4,306.1 L345.4,306.3 L347.2,305.9 L348.9,305.4 L350.4,304.0 L352.2,303.6 L353.4,302.0 L355.1,301.3 L356.5,300.0 L358.1,299.0 L359.7,298.0 L361.3,296.9 L362.4,295.3 L364.4,295.1 L365.6,293.6 L367.2,292.8 L369.2,292.9 L371.2,292.1 L373.1,293.1 L375.1,293.6 L377.1,293.7 L378.9,294.3 L380.8,293.9 L382.5,294.0 L384.2,292.8 L386.3,292.6 L387.8,291.3 L389.7,290.6 L391.7,290.1 L393.5,290.2 L395.6,289.3 L397.6,289.7 L399.6,290.8 L401.6,291.5 L403.6,291.5 L405.5,291.5 L407.3,290.7 L408.7,289.3 L410.1,287.9 L411.3,286.4 L412.8,285.0 L414.4,284.0 L416.1,283.5 L417.7,283.2 L419.4,282.9 L421.0,282.9 L422.7,283.5 L424.5,283.4 L426.4,283.6 L428.3,283.6 L430.0,283.0 L431.9,282.7 L433.9,283.5 L436.0,283.4 L438.1,283.0 L440.2,282.8 L442.4,284.2 L444.3,282.3 L446.2,282.4 L448.0,282.4 L449.4,281.3 L451.7,281.2 L453.9,280.8 L455.5,279.5 L457.1,278.7 L458.8,278.4 L460.5,278.3 L462.1,279.3 L464.0,279.8 L465.9,280.4 L467.9,281.1 L469.4,281.5 L471.0,281.0 L472.8,280.9 L474.2,279.0 L476.5,280.2 L478.6,280.2 L480.4,279.1 L482.0,277.7 L483.9,276.8 L485.9,276.8 L487.5,275.7 L489.4,276.2 L491.2,275.1 L493.3,275.5 L495.2,275.3 L496.7,273.0 L498.8,273.9 L500.5,273.0 L502.4,272.3 L504.4,272.3 L506.2,272.3 L508.1,272.7 L509.8,271.0 L511.9,272.3 L513.8,272.6 L515.6,271.5 L517.6,271.3 L519.4,270.7 L521.2,269.8 L523.2,270.6 L525.0,270.2 L526.9,270.2 L528.8,271.0 L530.3,269.7 L532.0,269.2 L533.7,269.6 L535.2,267.7 L537.0,267.6 L538.9,267.7 L540.8,267.3 L543.0,267.8 L544.5,267.0 L546.3,268.0 L548.0,267.6 L549.7,266.9 L551.5,266.0 L553.5,266.3 L555.4,266.2 L557.2,264.8 L559.3,265.4 L561.4,265.3 L563.4,264.8 L565.5,265.3 L567.5,264.9 L569.4,263.4 L571.4,263.8 L573.4,263.0 L575.4,263.6 L577.2,262.6 L579.2,263.5 L581.0,263.0 L583.0,263.2 L585.0,262.5 L586.9,261.6 L588.9,263.4 L590.8,262.2 L592.7,263.1 L594.6,262.4 L596.5,262.6 L598.3,263.2 L600.2,262.3 L602.1,262.9 L603.9,261.2 L605.8,262.6 L607.7,261.9 L609.6,261.9 L611.5,262.0 L613.4,262.2 L615.4,263.0 L617.3,260.9 L619.3,262.1 L621.3,261.7 L623.3,262.8 L625.3,261.9 L627.2,262.5 L629.2,262.0 L631.1,262.7 L633.1,262.9 L634.9,262.0 L636.8,262.3 L638.5,261.4 L640.3,262.3 L642.0,262.5 L644.0,261.4 L646.1,262.1 L647.7,259.9 L649.6,259.6 L651.5,259.4 L653.4,259.5 L655.3,259.4 L657.0,259.1 L658.6,258.9 L660.3,259.4 L662.2,259.0 L664.0,259.1 L665.6,259.8 L666.6,261.9 L669.1,260.6 L670.5,262.2 L672.3,263.6 L674.0,263.3 L675.7,262.7 L677.3,263.3 L679.1,264.0 L681.0,264.2 L682.9,263.0 L684.9,264.0 L686.9,263.8 L688.9,264.3 L690.9,264.5 L693.0,263.5 L695.1,262.9 L697.1,264.1 L699.0,265.0 L701.0,264.5 L703.0,264.4 L704.7,265.9 L707.0,264.3 L708.8,265.8 L711.0,265.4 L712.9,266.2 L714.9,266.7 L716.7,267.9 L719.0,267.1 L720.9,267.8 L723.0,267.7 L724.7,269.2 L726.7,269.1 L728.4,269.9 L730.3,269.4 L731.9,270.0 L733.5,271.0 L735.7,270.4 L737.7,270.9 L739.6,270.8 L741.5,270.1 L743.2,269.2 L745.1,270.6 L746.9,269.9 L748.8,270.3 L750.7,268.4 L752.8,268.6 L754.9,268.2 L757.1,269.0 L759.1,270.0 L761.0,269.6 L762.6,269.1 L764.0,269.0 L766.0,268.3 L767.6,267.2 L768.9,267.9 L770.3,268.3 L772.4,268.4 L773.7,270.0 L775.0,271.6 L776.7,271.9 L778.1,272.9 L779.6,273.8 L781.1,274.9 L782.4,276.5 L784.2,277.3 L786.0,278.2 L788.0,278.9 L789.1,280.7 L790.9,281.4 L792.4,282.5 L793.4,284.4 L795.0,285.5 L797.0,286.1 L798.1,287.9 L799.7,289.0 L801.5,289.7 L802.7,291.2 L804.7,291.3 L806.0,292.1 L807.9,292.6 L809.6,293.1 L811.3,294.5 L813.3,293.6 L815.1,294.3 L816.7,295.3 L817.8,296.6 L819.0,297.6 L820.0,299.0 L821.3,300.2 L822.5,301.6 L823.5,303.2 L824.5,304.8 L825.7,306.2 L826.7,307.8 L827.6,309.5 L828.9,311.1 L829.9,312.9 L830.9,314.8 L832.1,316.5 L833.1,318.2 L834.2,319.9 L835.2,321.6 L836.2,323.1 L837.5,324.6 L838.6,326.0 L839.6,327.4 L840.8,328.7 L842.3,329.7 L843.2,331.1 L844.4,332.4 L845.4,333.9 L846.7,335.2 L847.9,336.7 L849.0,338.2 L850.3,339.6 L851.2,341.3 L852.4,342.8 L853.4,344.5 L854.7,345.9 L855.7,347.5 L856.7,349.1 L857.7,350.8 L858.5,352.5 L859.6,354.1 L860.5,355.8 L861.7,357.1 L862.7,358.6 L864.1,359.3 L865.3,360.5 L866.9,361.2 L868.3,362.2 L869.9,362.6 L871.5,363.2 L872.8,364.5 L874.1,365.5 L875.1,367.0 L876.2,368.6 L877.3,370.3 L878.3,372.1 L879.2,374.0 L880.2,375.9 L881.1,377.7 L882.0,379.5 L883.0,381.2 L883.9,382.9 L884.8,384.5 L885.6,386.3 L886.4,388.0 L887.2,389.7 L888.1,391.4 L888.9,393.1 L889.7,394.8 L890.6,396.5 L891.4,398.1 L892.2,399.9 L893.0,401.5 L893.9,403.1 L894.8,404.8 L895.7,406.5 L896.5,408.2 L897.3,410.0 L898.1,411.7 L898.9,413.5 L899.7,415.2 L900.4,417.0 L901.2,418.8 L901.9,420.6 L902.7,422.5 L903.5,424.4 L904.3,426.3 L905.0,428.4 L905.6,430.0 L906.2,431.7 L906.8,433.5 L907.4,435.3 L908.0,437.1 L908.7,438.9 L909.3,440.8 L909.9,442.7 L910.5,444.6 L911.1,446.5 L911.7,448.4 L912.3,450.4 L912.8,452.3 L913.4,454.2 L914.0,456.1 L914.5,458.0 L915.0,459.9 L915.5,461.8 L916.0,463.7 L916.5,465.6 L917.0,467.5 L917.5,469.4 L917.9,471.3 L918.4,473.2 L918.8,475.1 L919.3,477.0 L919.7,478.9 L920.1,480.8 L920.5,482.8 L920.9,484.7 L921.4,486.6 L921.8,488.5 L922.2,490.4 L922.6,492.3 L923.0,494.2 L923.4,496.1 L923.8,498.0 L924.2,499.9 L924.6,501.8 L925.0,503.7 L925.3,505.6 L925.7,507.5 L926.1,509.5 L926.5,511.4 L926.8,513.3 L927.2,515.2 L927.5,517.1 L927.9,519.0 L928.3,520.9 L928.6,522.8 L929.0,524.7 L929.3,526.6 L929.7,528.6 L930.0,530.5 L930.4,532.4 L930.7,534.3 L931.0,536.2 L931.4,538.1 L931.7,540.0 L932.0,541.9 L932.3,543.9 L932.6,545.8 L932.9,547.7 L933.2,549.6 L933.5,551.5 L933.7,553.4 L934.0,555.3 L934.2,557.2 L934.5,559.1 L934.7,561.0 L934.9,562.9 L935.1,564.8 L935.4,566.8 L935.6,568.7 L935.8,570.6 L936.0,572.5 L936.3,574.4 L936.5,576.3 L936.7,578.2 L937.0,580.1 L937.3,582.0 L937.5,583.9 L937.8,585.8 L938.1,587.7 L938.4,589.6 L938.7,591.5 L939.0,593.4 L939.3,595.4 L939.6,597.3 L939.9,599.2 L940.2,601.1 L940.5,603.0 L940.8,604.9 L941.1,606.8 L941.3,608.7 L941.6,610.6 L941.9,612.5 L942.1,614.4 L942.4,616.2 L942.6,618.1 L942.8,619.9 L943.1,621.8 L943.3,623.6 L943.5,625.5 L943.8,627.3 L944.0,629.2 L944.2,631.1 L944.5,633.1 L944.7,635.0 L944.9,637.0 L945.2,639.0 L945.4,641.1 L945.6,642.9 L945.8,644.7 L946.0,646.5 L946.2,648.3 L946.4,650.2 L946.6,652.0 L946.8,653.9 L947.0,655.8 L947.1,657.7 L947.3,659.7 L947.5,661.6 L947.7,663.6 L947.9,665.5 L948.1,667.5 L948.3,669.5 L948.5,671.6 L948.7,673.6 L948.9,675.6 L949.1,677.7 L949.3,679.7 L949.6,681.8 L949.8,683.9 L950.0,686.0 L950.2,687.8 L950.4,689.7 L950.6,691.5 L950.8,693.4 L951.0,695.3 L951.2,697.2 L951.4,699.1 L951.7,701.1 L951.9,703.0 L952.1,705.0 L952.3,707.0 L952.6,708.9 L952.8,710.9 L953.0,712.9 L953.2,714.9 L953.5,716.9 L953.7,718.9 L953.9,720.9 L954.2,723.0 L954.4,725.0 L954.6,727.0 L954.9,729.0 L955.1,731.0 L955.3,733.0 L955.5,735.0 L955.8,737.1 L956.0,739.1 L956.2,741.1 L956.5,743.0 L956.7,745.0 L956.9,747.0 L957.1,749.0 L957.3,751.0 L957.6,752.9 L957.8,754.9 L958.0,756.9 L958.2,759.0 L958.4,761.0 L958.6,763.0 L958.8,765.0 L959.1,767.0 L959.3,769.0 L959.5,771.1 L959.7,773.1 L959.9,775.1 L960.1,777.1 L960.3,779.1 L960.6,781.1 L960.8,783.1 L961.0,785.1 L961.2,787.1 L961.4,789.0 L961.6,791.0 L961.9,793.0 L962.1,794.9 L962.3,796.8 L962.5,798.8 L962.8,800.7 L963.0,802.5 L963.2,804.4 L963.5,806.3 L963.7,808.1 L964.0,810.1 L964.2,812.1 L964.5,814.1 L964.8,816.0 L965.1,818.0 L965.4,819.9 L965.7,821.8 L966.0,823.6 L966.3,825.5 L966.6,827.3 L966.8,829.2 L967.1,831.0 L967.4,832.9 L967.7,834.7 L968.0,836.6 L968.3,838.4 L968.6,840.3 L968.9,842.2 L969.2,844.1 L969.5,846.0 L969.8,847.9 L970.1,849.9 L970.3,851.9 L970.6,853.9 L970.8,855.7 L971.1,857.6 L971.3,859.4 L971.5,861.3 L971.7,863.2 L972.0,865.1 L972.2,867.1 L972.4,869.0 L972.6,871.0 L972.8,873.0 L973.0,875.0 L973.2,876.9 L973.4,878.9 L973.6,881.0 L973.8,883.0 L974.0,885.0 L974.2,887.0 L974.5,889.0 L974.7,891.0 L974.9,893.0 L975.1,894.9 L975.3,896.9 L975.5,898.9 L975.8,900.8 L976.0,902.8 L976.2,904.7 L976.5,906.6 L976.7,908.5 L977.0,910.3 L977.2,912.2 L977.5,914.0 L977.8,916.0 L978.1,918.0 L978.5,920.0 L978.8,922.0 L979.1,924.0 L979.5,925.9 L979.8,927.8 L980.2,929.7 L980.6,931.6 L980.9,933.5 L981.3,935.4 L981.7,937.3 L982.0,939.2 L982.4,941.0 L982.8,942.9 L983.1,944.8 L983.5,946.6 L983.9,948.5 L984.2,950.4 L984.6,952.2 L984.9,954.1 L985.2,956.0 L985.6,957.9 L985.9,959.8 L986.2,961.7 L986.5,963.6 L986.8,965.5 L987.1,967.4 L987.4,969.3 L987.7,971.2 L988.0,973.2 L988.2,975.1 L988.5,977.0 L988.8,978.9 L989.0,980.8 L989.3,982.7 L989.6,984.6 L989.8,986.5 L990.1,988.4 L990.4,990.3 L990.7,992.3 L990.9,994.2 L991.2,996.1 L991.5,998.0 L991.8,999.9 L992.1,1001.8 L992.4,1003.7 L992.7,1005.6 L993.0,1007.5 L993.3,1009.4 L993.7,1011.4 L994.0,1013.4 L994.3,1015.3 L994.7,1017.3 L995.0,1019.3 L995.3,1021.3 L995.7,1023.2 L996.0,1025.2 L996.4,1027.2 L996.7,1029.1 L997.1,1031.1 L997.4,1033.0 L997.8,1035.0 L998.1,1036.9 L998.5,1038.8 L998.9,1040.6 L999.2,1042.5 L999.6,1044.3 L1000.0,1046.1 L1000.3,1047.9 L1000.7,1049.6 L1001.1,1051.3 L1001.6,1053.4 L1002.1,1055.5 L1002.6,1057.5 L1003.2,1059.5 L1003.7,1061.5 L1004.3,1063.4 L1004.9,1065.3 L1005.4,1067.2 L1006.0,1069.1 L1006.5,1070.9 L1007.0,1072.7 L1007.5,1074.6 L1007.9,1076.4 L1008.4,1078.2 L1008.8,1080.0 L1009.2,1082.0 L1009.6,1084.0 L1009.9,1086.1 L1010.2,1088.1 L1010.4,1090.1 L1010.7,1092.1 L1011.0,1094.0 L1011.2,1095.9 L1011.5,1097.8 L1011.9,1099.5 L1012.2,1101.3 L1012.6,1102.9 L1013.1,1104.9 L1013.7,1106.9 L1014.2,1108.7 L1014.8,1110.5 L1015.3,1112.2 L1016.2,1113.7 L1017.2,1115.1 L1018.6,1116.2 L1019.8,1117.6 L1021.6,1118.3 L1023.6,1118.5 L1024.9,1119.9 L1026.5,1121.1 L1027.3,1122.7 L1028.0,1124.5 L1028.7,1126.5 L1029.2,1128.6 L1029.8,1130.8 L1030.3,1132.9 L1030.9,1134.9 L1031.6,1136.6 L1032.5,1137.9 L1033.7,1139.6 L1035.8,1139.7 L1037.4,1140.8 L1038.4,1142.7 L1039.3,1144.0 L1040.1,1145.6 L1040.9,1147.5 L1041.6,1149.4 L1042.2,1151.4 L1042.9,1153.3 L1043.8,1154.9 L1044.7,1156.2 L1046.3,1157.4 L1047.9,1158.4 L1049.2,1160.0 L1050.7,1161.0 L1052.1,1162.5 L1053.1,1164.4 L1054.1,1166.0 L1055.2,1167.3 L1056.5,1166.2 L1058.2,1165.8 L1059.4,1163.9 L1061.5,1164.0 L1062.6,1165.5 L1063.9,1167.0 L1065.5,1168.8 L1066.8,1170.9 L1068.0,1172.8 L1069.5,1174.0 L1070.6,1174.2 L1072.0,1174.1 L1073.1,1172.5 L1074.4,1170.7 L1075.6,1169.2 L1076.7,1168.1 L1078.0,1169.2 L1079.3,1170.9 L1080.7,1173.0 L1082.0,1175.2 L1083.0,1177.1 L1084.3,1176.7 L1085.6,1177.2 L1086.6,1175.4 L1087.7,1173.8 L1088.9,1173.4 L1090.0,1173.8 L1091.2,1175.4 L1092.6,1177.3 L1093.9,1179.4 L1095.3,1180.9 L1096.5,1182.6 L1097.8,1181.1 L1098.6,1179.5 L1099.7,1177.6 L1100.8,1175.5 L1101.9,1173.6 L1103.1,1172.2 L1104.3,1172.9 L1105.8,1171.4 L1106.5,1173.2 L1107.8,1174.7 L1109.1,1176.4 L1110.4,1178.2 L1111.9,1179.6 L1113.3,1180.7 L1114.9,1181.7 L1116.8,1180.3 L1118.9,1181.9 L1120.8,1180.6 L1123.0,1181.3 L1125.0,1180.4 L1127.1,1180.7 L1128.9,1180.2 L1130.8,1180.3 L1132.7,1179.4 L1134.7,1178.6 L1136.7,1179.3 L1138.7,1179.2 L1140.5,1180.0 L1142.4,1177.7 L1143.8,1179.1 L1145.2,1180.3 L1147.1,1181.0 L1148.2,1182.5 L1149.1,1184.2 L1150.5,1185.3 L1152.3,1184.8 L1154.0,1185.8 L1155.7,1184.8 L1157.3,1183.6 L1158.9,1182.3 L1160.6,1181.3 L1162.1,1180.2 L1164.0,1180.3 L1165.8,1181.3 L1167.7,1181.3 L1169.5,1182.6 L1171.4,1181.3 L1172.6,1179.9 L1174.5,1180.2 L1176.3,1179.6 L1177.9,1178.7 L1179.5,1177.8 L1181.0,1176.7 L1182.8,1177.8 L1184.5,1176.6 L1186.0,1177.8 L1187.8,1177.9 L1189.6,1178.2 L1190.8,1180.1 L1193.1,1179.0 L1194.4,1180.3 L1196.0,1181.5 L1197.9,1181.7 L1199.5,1182.8 L1201.4,1182.9 L1203.1,1182.8 L1205.1,1184.2 L1206.4,1182.4 L1207.9,1181.7 L1209.2,1180.4 L1210.8,1179.3 L1212.6,1178.3 L1214.1,1177.0 L1215.6,1175.7 L1217.0,1174.4 L1218.8,1174.2 L1220.2,1172.4 L1222.1,1172.6 L1223.9,1172.3 L1225.6,1171.7 L1227.5,1172.1 L1229.1,1171.4 L1230.8,1171.1 L1232.9,1172.4 L1234.6,1171.5 L1236.3,1171.6 L1238.0,1170.7 L1239.8,1171.3 L1241.5,1171.2 L1243.2,1171.8 L1244.7,1172.8 L1246.9,1172.0 L1248.5,1172.9 L1250.4,1173.4 L1252.7,1172.4 L1254.0,1173.9 L1255.6,1175.1 L1257.3,1176.0 L1259.3,1175.9 L1260.9,1177.3 L1262.7,1177.6 L1264.5,1176.6 L1266.4,1177.4 L1268.3,1177.0 L1269.9,1175.7 L1271.4,1174.4 L1273.6,1174.5 L1275.1,1173.0 L1276.5,1172.2 L1278.1,1171.5 L1279.4,1170.3 L1281.2,1169.8 L1282.7,1168.8 L1284.3,1168.1 L1285.8,1167.1 L1287.2,1165.8 L1289.0,1165.6 L1290.9,1165.9 L1292.6,1165.0 L1294.6,1166.8 L1296.4,1164.8 L1298.4,1164.6 L1300.5,1165.5 L1302.6,1165.1 L1304.3,1164.6 L1306.2,1164.4 L1308.1,1164.7 L1310.1,1164.9 L1312.1,1164.8 L1314.1,1164.1 L1316.2,1164.4 L1318.3,1164.6 L1320.4,1164.5 L1322.3,1162.1 L1324.4,1163.3 L1326.4,1163.2 L1328.3,1163.3 L1330.1,1163.3 L1332.2,1163.4 L1334.2,1162.8 L1336.0,1161.9 L1337.9,1161.5 L1340.0,1161.9 L1341.5,1160.2 L1343.4,1160.2 L1345.3,1160.3 L1346.8,1159.2 L1348.1,1157.5 L1350.3,1158.3 L1351.8,1157.5 L1353.5,1157.2 L1355.2,1157.4 L1356.8,1156.6 L1358.5,1155.8 L1360.7,1156.0 L1362.1,1155.5 L1363.6,1155.0 L1365.3,1154.8 L1367.0,1154.4 L1368.7,1153.8 L1370.6,1153.4 L1372.5,1153.4 L1374.4,1152.5 L1376.3,1152.0 L1378.6,1153.2 L1380.4,1152.0 L1382.5,1151.8 L1384.5,1151.5 L1386.5,1151.3 L1388.5,1151.0 L1390.4,1150.7 L1392.3,1150.0 L1394.3,1150.7 L1396.1,1149.6 L1398.2,1150.3 L1400.0,1148.4 L1402.0,1148.7 L1404.1,1149.7 L1406.0,1148.8 L1407.9,1148.3 L1409.9,1148.8 L1411.8,1147.8 L1413.8,1148.3 L1415.6,1146.7 L1417.5,1147.6 L1419.3,1147.3 L1421.2,1147.8 L1423.0,1147.8 L1424.6,1146.6 L1426.8,1147.8 L1428.6,1146.3 L1430.3,1145.2 L1432.1,1144.8 L1434.2,1146.8 L1435.8,1145.6 L1437.6,1145.0 L1439.4,1144.7 L1441.1,1144.2 L1443.2,1145.4 L1445.0,1144.3 L1447.0,1145.0 L1448.7,1143.6 L1450.4,1142.0 L1452.6,1143.5 L1454.5,1142.5 L1456.4,1142.2 L1458.6,1142.9 L1460.4,1141.5 L1462.5,1142.0 L1464.4,1141.0 L1466.3,1140.2 L1468.5,1140.6 L1470.4,1139.7 L1472.4,1140.4 L1474.3,1140.0 L1476.0,1139.3 L1478.0,1139.3 L1479.9,1139.1 L1481.7,1138.3 L1483.7,1138.8 L1485.6,1137.9 L1487.5,1138.2 L1489.4,1137.0 L1491.4,1137.4 L1493.3,1137.3 L1495.2,1136.4 L1497.1,1136.4 L1499.0,1136.1 L1501.1,1136.5 L1502.9,1135.4 L1504.9,1135.8 L1506.9,1136.2 L1508.7,1135.2 L1510.4,1133.8 L1512.5,1134.5 L1514.5,1134.8 L1516.3,1133.7 L1518.3,1134.2 L1520.2,1133.7 L1522.1,1133.3 L1523.9,1132.6 L1525.8,1132.2 L1527.8,1132.0 L1529.7,1131.9 L1531.6,1131.9 L1533.5,1131.6 L1535.4,1130.9 L1537.3,1130.8 L1539.3,1130.6 L1541.0,1129.2 L1543.0,1129.4 L1544.9,1129.1 L1546.8,1129.1 L1548.7,1128.8 L1550.6,1128.5 L1552.5,1127.8 L1554.5,1128.4 L1556.4,1127.9 L1558.2,1126.6 L1560.2,1127.3 L1562.0,1126.4 L1564.1,1127.8 L1565.9,1126.3 L1567.8,1126.1 L1569.7,1126.2 L1571.6,1125.8 L1573.5,1125.7 L1575.5,1126.5 L1577.4,1125.5 L1579.3,1125.7 L1581.2,1125.7 L1583.0,1124.2 L1585.1,1125.6 L1586.9,1124.9 L1588.8,1124.8 L1590.6,1123.6 L1592.6,1124.4 L1594.5,1124.0 L1596.4,1123.2 L1598.5,1124.7 L1600.3,1123.5 L1602.1,1122.8 L1604.0,1122.9 L1606.0,1123.1 L1607.9,1123.1 L1609.8,1122.6 L1611.7,1122.8 L1613.7,1122.7 L1615.4,1120.9 L1617.4,1121.2 L1619.2,1120.7 L1621.2,1121.2 L1623.2,1121.8 L1625.1,1121.1 L1626.9,1119.9 L1628.9,1120.2 L1631.0,1120.8 L1632.9,1119.7 L1634.9,1119.8 L1637.0,1119.9 L1638.8,1118.4 L1640.9,1119.8 L1642.9,1119.3 L1644.8,1119.3 L1646.6,1118.2 L1648.4,1118.1 L1650.2,1118.0 L1652.0,1118.2 L1653.6,1117.9 L1655.7,1117.5 L1657.8,1118.1 L1659.6,1117.4 L1661.1,1115.9 L1662.8,1115.5 L1664.9,1116.4 L1666.5,1114.8 L1668.6,1115.3 L1670.7,1115.0 L1672.1,1113.5 L1673.9,1113.3 L1675.7,1113.1 L1677.4,1112.2 L1679.3,1111.8 L1681.2,1111.7 L1683.3,1112.0 L1685.1,1110.9 L1687.2,1110.7 L1689.1,1110.1 L1691.0,1109.3 L1693.3,1110.4 L1694.9,1107.9 L1697.1,1108.5 L1699.1,1108.7 L1700.8,1107.2 L1703.0,1107.9 L1705.0,1107.9 L1706.6,1106.3 L1708.7,1106.4 L1710.4,1105.2 L1712.5,1105.7 L1714.4,1105.0 L1716.3,1104.6 L1718.4,1104.8 L1720.2,1103.8 L1722.2,1103.9 L1724.0,1103.1 L1725.7,1101.7 L1727.8,1102.1 L1729.7,1101.8 L1731.5,1100.4 L1733.6,1101.7 L1735.4,1100.6 L1737.4,1100.5 L1739.3,1099.5 L1741.3,1099.9 L1743.2,1099.8 L1745.2,1099.2 L1747.1,1099.2 L1748.9,1097.7 L1751.1,1099.5 L1752.8,1097.9 L1754.6,1097.0 L1756.6,1097.5 L1758.4,1097.4 L1760.4,1097.9 L1762.0,1096.8 L1764.2,1097.1 L1766.1,1096.1 L1768.4,1097.6 L1770.2,1096.3 L1772.3,1096.7 L1774.0,1094.7 L1776.1,1095.3 L1777.8,1094.0 L1779.8,1094.4 L1781.6,1094.1 L1783.1,1092.4 L1784.8,1092.2 L1786.6,1091.7 L1788.3,1091.0 L1790.1,1090.7 L1791.6,1090.0 L1793.1,1089.1 L1795.0,1089.2 L1796.7,1088.8 L1798.2,1087.3 L1800.1,1087.1 L1801.9,1087.0 L1803.7,1086.4 L1805.4,1085.7 L1807.4,1086.1 L1809.3,1085.8 L1811.2,1085.3 L1813.0,1084.4 L1815.2,1085.3 L1817.2,1084.8 L1819.0,1083.3 L1821.0,1083.1 L1823.2,1083.5 L1824.8,1082.1 L1826.7,1082.5 L1828.5,1082.0 L1830.4,1081.3 L1832.3,1081.3 L1834.1,1080.3 L1836.1,1080.7 L1837.9,1079.6 L1840.2,1081.9 L1842.1,1081.2 L1844.0,1080.8 L1845.9,1080.0 L1847.9,1080.2 L1849.8,1080.2 L1851.7,1079.8 L1853.7,1079.5 L1855.5,1078.3 L1857.5,1078.8 L1859.3,1078.1 L1861.2,1077.5 L1863.1,1077.4 L1865.1,1078.1 L1867.1,1078.3 L1868.9,1076.7 L1871.0,1078.4 L1872.9,1078.0 L1874.7,1076.8 L1876.6,1076.5 L1878.5,1076.6 L1880.5,1077.0 L1882.3,1076.0 L1884.1,1075.4 L1886.2,1076.0 L1887.9,1074.3 L1890.0,1075.4 L1892.0,1075.7 L1893.9,1075.0 L1895.8,1075.0 L1897.7,1074.6 L1899.7,1074.4 L1901.5,1073.8 L1903.4,1073.0 L1905.3,1073.1 L1907.2,1072.9 L1909.3,1073.4 L1911.2,1073.4 L1913.0,1072.4"/>
<path stroke="#7d2fa6" d="M234.0,304.5 L235.9,304.5 L237.8,304.7 L239.7,305.2 L241.6,305.0 L243.5,304.9 L245.4,304.7 L247.3,305.3 L249.2,305.1 L251.1,305.1 L252.9,305.2 L254.8,305.7 L256.7,305.2 L258.6,305.8 L260.5,305.7 L262.4,305.3 L264.3,305.6 L266.2,305.4 L268.1,305.2 L270.0,305.4 L271.9,305.3 L273.9,305.7 L275.8,305.6 L277.8,305.8 L279.8,306.0 L281.9,304.8 L283.9,305.9 L285.9,305.3 L287.9,305.9 L289.9,305.7 L291.9,306.0 L293.8,306.4 L295.7,305.6 L297.6,306.2 L299.4,306.1 L301.2,305.6 L302.8,306.4 L304.5,306.3 L306.0,306.1 L308.2,306.1 L310.2,307.4 L312.1,306.4 L314.0,306.0 L315.7,306.4 L317.6,306.6 L319.5,306.6 L321.5,306.7 L323.3,306.4 L325.1,306.8 L327.0,306.4 L329.0,306.0 L331.0,306.1 L333.0,306.1 L335.0,306.4 L337.1,306.1 L339.1,305.8 L341.1,305.7 L343.1,305.7 L345.0,306.1 L346.8,305.2 L348.7,305.4 L350.5,305.3 L352.3,304.7 L354.1,304.9 L355.9,304.8 L357.7,304.4 L359.5,304.6 L361.3,304.6 L363.2,304.5 L365.1,304.0 L367.0,304.1 L368.8,304.6 L370.7,303.5 L372.6,303.9 L374.6,304.1 L376.6,303.8 L378.6,303.9 L380.7,303.8 L382.7,303.9 L384.7,304.1 L386.6,303.6 L388.5,303.7 L390.2,303.6 L391.9,303.5 L393.5,303.5 L395.0,303.2 L397.0,303.7 L398.8,303.9 L400.5,303.9 L402.0,303.7 L403.5,302.9 L405.1,303.4 L406.7,302.3 L408.3,301.7 L410.0,301.6 L411.5,300.6 L413.0,301.4 L414.6,302.0 L416.3,302.8 L418.1,303.3 L419.4,304.0 L420.9,304.1 L422.3,304.7 L424.0,305.0 L425.9,304.4 L428.0,304.8 L429.2,305.0 L430.6,304.8 L432.0,304.8 L433.6,305.2 L435.2,305.1 L436.9,304.6 L438.8,304.9 L440.6,305.2 L442.6,304.6 L444.6,304.7 L446.6,305.3 L448.7,305.2 L450.8,304.2 L452.9,304.2 L455.1,304.6 L457.3,304.1 L459.5,304.3 L461.7,304.1 L463.8,304.3 L466.0,303.3 L468.1,303.3 L470.2,303.5 L472.3,304.1 L474.3,303.6 L476.2,303.1 L478.2,303.7 L480.0,303.7 L482.0,303.4 L484.0,303.3 L486.0,303.5 L487.9,303.6 L489.8,303.3 L491.7,303.3 L493.6,303.1 L495.5,302.9 L497.4,302.7 L499.3,303.0 L501.1,302.8 L503.0,302.8 L504.8,303.1 L506.7,302.9 L508.6,303.0 L510.4,302.2 L512.3,302.8 L514.2,302.4 L516.1,302.3 L518.0,302.2 L520.0,302.8 L521.9,302.6 L523.8,302.1 L525.7,301.9 L527.7,302.2 L529.6,302.0 L531.5,302.6 L533.5,301.7 L535.4,301.5 L537.4,302.0 L539.3,302.0 L541.3,302.0 L543.3,302.1 L545.3,302.5 L547.2,301.7 L549.2,301.6 L551.2,301.2 L553.1,301.8 L555.1,302.0 L557.1,301.6 L559.1,302.0 L561.1,301.6 L563.0,302.0 L565.0,301.6 L566.9,301.1 L568.8,301.2 L570.7,300.9 L572.6,300.8 L574.5,301.4 L576.4,301.5 L578.3,301.8 L580.2,301.2 L582.1,301.1 L584.0,300.8 L585.9,301.3 L587.8,301.1 L589.7,300.8 L591.6,301.1 L593.6,301.0 L595.5,300.3 L597.5,301.0 L599.4,300.8 L601.4,300.6 L603.4,300.5 L605.4,301.1 L607.4,301.0 L609.5,301.1 L611.5,300.2 L613.3,300.3 L615.2,300.7 L617.2,300.0 L619.1,300.1 L621.1,299.8 L623.1,300.8 L625.1,300.5 L627.2,300.3 L629.2,300.2 L631.3,299.9 L633.4,299.9 L635.5,300.2 L637.6,299.7 L639.7,300.3 L641.7,299.7 L643.8,299.5 L645.9,300.2 L648.0,299.7 L650.0,299.8 L652.1,299.5 L654.1,298.9 L656.1,299.7 L658.0,299.1 L660.0,299.8 L661.9,299.0 L663.8,298.9 L665.6,299.5 L667.4,299.6 L669.1,299.4 L670.8,299.0 L672.5,299.7 L674.7,299.0 L676.9,299.2 L679.0,299.1 L681.1,299.2 L683.2,299.6 L685.2,299.1 L687.1,299.4 L689.1,299.5 L691.0,298.7 L692.8,298.9 L694.6,299.2 L696.4,299.2 L698.1,299.5 L699.8,298.9 L701.4,299.9 L703.0,300.0 L705.2,300.0 L707.3,300.0 L709.1,300.7 L711.0,300.9 L712.8,301.7 L714.6,301.9 L716.4,302.6 L718.3,302.8 L720.1,303.8 L722.3,303.3 L724.1,304.2 L725.9,305.1 L728.0,305.3 L729.7,306.5 L731.7,306.7 L733.5,307.8 L735.3,308.4 L737.0,309.4 L738.7,310.4 L740.4,311.3 L742.2,312.3 L743.6,313.7 L745.5,314.5 L747.3,315.5 L748.7,317.0 L750.2,318.2 L751.6,319.5 L753.1,320.9 L754.8,322.1 L756.1,323.8 L757.5,325.2 L759.0,326.7 L760.3,328.1 L761.8,329.4 L762.9,330.9 L763.9,332.3 L765.5,333.8 L766.8,335.4 L767.9,337.0 L769.1,338.5 L770.2,340.0 L771.7,341.2 L772.9,342.8 L774.3,344.5 L775.8,346.0 L777.2,347.4 L778.4,348.8 L780.0,349.2 L781.6,348.6 L782.9,347.3 L784.6,346.3 L786.2,344.7 L787.5,342.9 L788.3,341.6 L789.1,340.2 L789.7,338.5 L790.4,336.6 L791.0,334.7 L791.6,332.7 L792.1,330.7 L792.7,328.7 L793.3,326.8 L793.9,324.9 L794.4,323.2 L795.1,321.6 L796.0,319.5 L796.8,317.3 L797.7,315.2 L798.6,313.2 L799.4,311.6 L800.4,310.5 L801.2,310.7 L801.9,310.7 L802.9,311.6 L803.8,313.3 L804.7,315.3 L805.6,317.4 L806.4,319.6 L807.3,321.6 L808.1,323.2 L808.9,324.9 L809.7,326.7 L810.5,328.5 L811.3,330.4 L812.1,332.3 L812.8,334.2 L813.6,336.1 L814.3,338.0 L814.9,339.9 L815.4,341.6 L815.9,343.4 L816.4,345.1 L816.9,346.8 L817.3,348.6 L817.7,350.3 L818.1,352.1 L818.5,353.9 L818.8,355.8 L819.2,357.7 L819.5,359.7 L819.8,361.4 L820.0,363.2 L820.3,365.0 L820.5,366.8 L820.7,368.7 L820.9,370.6 L821.1,372.6 L821.2,374.5 L821.4,376.5 L821.6,378.5 L821.7,380.4 L821.9,382.4 L822.1,384.4 L822.2,386.3 L822.4,388.3 L822.6,390.2 L822.8,392.1 L823.0,394.0 L823.2,395.9 L823.4,397.8 L823.6,399.6 L823.7,401.5 L823.9,403.4 L824.1,405.3 L824.3,407.1 L824.5,409.0 L824.7,410.9 L824.9,412.9 L825.1,414.8 L825.2,416.7 L825.4,418.7 L825.6,420.7 L825.8,422.6 L825.9,424.4 L826.1,426.3 L826.3,428.2 L826.5,430.1 L826.7,432.1 L826.8,434.0 L827.0,435.9 L827.2,437.9 L827.4,439.9 L827.5,441.8 L827.7,443.8 L827.9,445.8 L828.0,447.8 L828.2,449.8 L828.3,451.9 L828.5,453.9 L828.6,455.9 L828.7,458.0 L828.8,459.9 L828.9,461.8 L829.0,463.7 L829.0,465.7 L829.1,467.6 L829.1,469.6 L829.2,471.6 L829.2,473.6 L829.3,475.6 L829.3,477.6 L829.3,479.6 L829.4,481.6 L829.4,483.6 L829.4,485.7 L829.5,487.7 L829.5,489.7 L829.5,491.7 L829.6,493.8 L829.6,495.8 L829.7,497.8 L829.8,499.8 L829.8,501.8 L829.9,503.8 L830.0,505.8 L830.1,507.8 L830.2,509.8 L830.3,511.8 L830.4,513.8 L830.5,515.8 L830.6,517.7 L830.7,519.7 L830.8,521.7 L830.9,523.7 L831.0,525.7 L831.1,527.7 L831.3,529.7 L831.4,531.7 L831.5,533.7 L831.6,535.7 L831.8,537.7 L831.9,539.6 L832.0,541.6 L832.1,543.6 L832.3,545.6 L832.4,547.6 L832.5,549.6 L832.6,551.6 L832.7,553.6 L832.9,555.6 L833.0,557.6 L833.1,559.5 L833.2,561.5 L833.4,563.5 L833.5,565.5 L833.6,567.5 L833.7,569.5 L833.9,571.5 L834.0,573.4 L834.1,575.4 L834.2,577.4 L834.4,579.4 L834.5,581.4 L834.6,583.4 L834.8,585.4 L834.9,587.4 L835.1,589.3 L835.2,591.3 L835.4,593.3 L835.5,595.3 L835.7,597.3 L835.8,599.3 L836.0,601.3 L836.1,603.3 L836.3,605.3 L836.5,607.3 L836.6,609.3 L836.8,611.2 L837.0,613.2 L837.2,615.2 L837.4,617.2 L837.5,619.2 L837.7,621.2 L837.9,623.2 L838.1,625.2 L838.2,627.2 L838.4,629.2 L838.6,631.2 L838.8,633.2 L838.9,635.1 L839.1,637.1 L839.2,639.1 L839.4,641.1 L839.5,643.1 L839.7,645.0 L839.8,647.0 L840.0,648.9 L840.1,650.9 L840.2,652.8 L840.4,654.8 L840.5,656.7 L840.6,658.7 L840.8,660.6 L840.9,662.6 L841.0,664.5 L841.1,666.5 L841.3,668.4 L841.4,670.4 L841.5,672.3 L841.6,674.3 L841.8,676.2 L841.9,678.2 L842.0,680.1 L842.1,682.1 L842.3,684.0 L842.4,686.0 L842.5,688.0 L842.7,690.0 L842.8,692.0 L842.9,694.0 L843.0,696.0 L843.2,698.0 L843.3,700.0 L843.4,702.1 L843.5,704.1 L843.6,706.1 L843.8,708.1 L843.9,710.1 L844.0,712.2 L844.1,714.2 L844.3,716.2 L844.4,718.2 L844.6,720.1 L844.7,722.1 L844.8,724.1 L845.0,726.0 L845.2,728.0 L845.3,729.9 L845.5,731.8 L845.7,733.8 L845.9,735.8 L846.1,737.7 L846.3,739.6 L846.5,741.6 L846.7,743.5 L847.0,745.4 L847.2,747.3 L847.4,749.2 L847.6,751.1 L847.9,753.0 L848.1,754.8 L848.4,756.7 L848.6,758.6 L848.8,760.5 L849.1,762.3 L849.3,764.2 L849.5,766.1 L849.8,768.0 L850.0,769.9 L850.2,771.8 L850.4,773.7 L850.7,775.7 L850.9,777.6 L851.1,779.6 L851.3,781.5 L851.5,783.4 L851.8,785.4 L852.0,787.3 L852.2,789.3 L852.4,791.2 L852.6,793.1 L852.9,795.1 L853.1,797.0 L853.3,798.9 L853.6,800.7 L853.8,802.6 L854.1,804.5 L854.3,806.3 L854.6,808.1 L854.9,810.1 L855.2,812.1 L855.6,814.0 L855.9,815.9 L856.3,817.8 L856.6,819.7 L857.0,821.6 L857.3,823.4 L857.7,825.3 L858.1,827.2 L858.4,829.0 L858.7,830.9 L859.1,832.8 L859.4,834.7 L859.7,836.6 L860.0,838.6 L860.3,840.5 L860.5,842.6 L860.7,844.7 L860.8,846.9 L861.0,849.1 L861.1,851.4 L861.3,853.6 L861.4,855.9 L861.5,858.1 L861.7,860.3 L861.9,862.4 L862.0,864.4 L862.2,866.3 L862.5,868.1 L862.7,869.8 L863.1,871.3 L863.4,872.6 L863.8,873.7 L865.1,875.4 L866.4,876.6 L867.6,878.3 L868.0,879.6 L868.4,881.2 L868.7,883.2 L868.9,885.3 L869.1,887.6 L869.3,889.9 L869.4,892.3 L869.6,894.5 L869.8,896.7 L870.1,898.7 L870.4,900.4 L870.8,901.7 L871.4,902.7 L872.5,903.7 L873.7,904.7 L875.2,904.2 L876.8,904.3 L878.4,903.8 L879.9,902.8 L880.4,901.8 L880.8,900.5 L881.2,899.0 L881.5,897.2 L881.7,895.2 L881.9,893.1 L882.0,890.8 L882.1,888.5 L882.2,886.1 L882.4,883.7 L882.5,881.4 L882.7,879.2 L882.9,877.2 L883.2,875.3 L883.6,873.7 L884.3,871.7 L885.0,869.9 L885.8,868.3 L886.7,866.7 L887.5,865.1 L888.3,863.4 L888.9,861.5 L889.3,859.9 L889.7,858.2 L890.0,856.4 L890.3,854.6 L890.6,852.7 L890.8,850.7 L891.0,848.8 L891.2,846.8 L891.4,844.7 L891.6,842.7 L891.8,840.7 L892.0,838.6 L892.2,836.8 L892.3,835.0 L892.4,833.1 L892.6,831.2 L892.7,829.2 L892.7,827.3 L892.8,825.3 L892.9,823.3 L893.0,821.4 L893.1,819.4 L893.3,817.4 L893.4,815.5 L893.6,813.6 L893.8,811.7 L894.0,809.9 L894.3,808.1 L894.7,806.1 L895.1,804.1 L895.6,802.2 L896.1,800.3 L896.7,798.5 L897.3,796.6 L897.9,794.8 L898.4,793.0 L899.0,791.1 L899.5,789.2 L900.0,787.2 L900.4,785.2 L900.7,783.4 L901.0,781.6 L901.3,779.8 L901.6,778.0 L901.9,776.1 L902.1,774.3 L902.3,772.4 L902.6,770.5 L902.8,768.5 L903.0,766.6 L903.2,764.6 L903.4,762.7 L903.6,760.7 L903.8,758.7 L904.0,756.7 L904.2,754.7 L904.4,752.9 L904.6,751.0 L904.7,749.2 L904.9,747.3 L905.1,745.4 L905.2,743.4 L905.4,741.5 L905.5,739.5 L905.7,737.6 L905.8,735.6 L906.0,733.6 L906.1,731.7 L906.2,729.7 L906.4,727.8 L906.5,725.8 L906.7,723.9 L906.8,722.0 L907.0,720.2 L907.1,718.3 L907.3,716.5 L907.5,714.5 L907.6,712.5 L907.8,710.5 L907.9,708.5 L908.1,706.5 L908.2,704.5 L908.4,702.5 L908.5,700.6 L908.7,698.6 L908.9,696.7 L909.0,694.8 L909.3,693.0 L909.5,691.2 L909.7,689.4 L910.0,687.7 L910.3,686.0 L910.7,683.9 L911.2,682.0 L911.8,680.1 L912.3,678.2 L912.9,676.4 L913.5,674.7 L914.1,672.9 L914.7,671.0 L915.2,669.1 L915.7,667.1 L916.1,665.4 L916.4,663.6 L916.8,661.8 L917.1,659.9 L917.5,658.1 L917.8,656.2 L918.1,654.3 L918.4,652.4 L918.7,650.4 L919.0,648.5 L919.3,646.6 L919.6,644.8 L919.9,642.9 L920.2,641.1 L920.5,639.1 L920.9,637.2 L921.2,635.3 L921.6,633.4 L921.9,631.5 L922.2,629.6 L922.5,627.7 L922.9,625.8 L923.2,623.9 L923.5,622.0 L923.7,620.1 L924.0,618.2 L924.2,616.3 L924.5,614.4 L924.7,612.5 L924.9,610.6 L925.1,608.7 L925.2,606.8 L925.4,604.8 L925.6,602.9 L925.8,601.0 L925.9,599.1 L926.1,597.2 L926.3,595.3 L926.5,593.4 L926.7,591.5 L926.9,589.5 L927.1,587.6 L927.2,585.6 L927.4,583.7 L927.6,581.7 L927.8,579.8 L928.0,578.0 L928.2,576.1 L928.4,574.3 L928.6,572.5 L928.8,570.3 L929.0,568.0 L929.1,565.6 L929.3,563.1 L929.5,560.9 L929.7,558.9 L930.0,557.3 L930.4,556.2 L930.9,556.1 L931.7,556.3 L932.7,558.0 L933.8,560.2 L934.9,562.5 L936.1,564.1 L937.0,564.4 L937.8,564.5 L938.4,563.4 L939.1,562.0 L939.7,560.2 L940.3,558.2 L940.9,556.0 L941.4,553.8 L941.9,551.6 L942.4,549.6 L942.8,547.9 L943.1,546.0 L943.3,544.2 L943.5,542.2 L943.7,540.3 L943.9,538.3 L944.1,536.3 L944.3,534.3 L944.5,532.3 L944.7,530.4 L945.0,528.5 L945.4,526.7 L945.9,524.8 L946.5,523.0 L947.1,521.2 L947.7,519.4 L948.4,517.7 L949.1,515.9 L949.8,514.1 L950.4,512.3 L951.0,510.4 L951.5,508.4 L951.9,506.6 L952.2,504.8 L952.5,502.9 L952.8,500.9 L953.0,498.9 L953.2,496.9 L953.4,494.9 L953.6,492.8 L953.8,490.8 L953.9,488.8 L954.1,486.7 L954.3,484.8 L954.4,482.8 L954.6,480.9 L954.8,478.9 L955.0,477.0 L955.1,475.0 L955.3,473.1 L955.4,471.2 L955.6,469.3 L955.7,467.4 L955.9,465.5 L956.0,463.6 L956.2,461.7 L956.3,459.9 L956.5,458.0 L956.7,456.0 L956.8,453.9 L957.0,451.7 L957.1,449.5 L957.2,447.3 L957.4,445.2 L957.6,443.2 L957.8,441.3 L958.1,439.7 L958.4,438.2 L958.8,437.0 L959.5,435.3 L960.3,434.0 L961.4,433.4 L962.0,434.3 L962.8,435.8 L963.5,437.9 L964.3,440.2 L965.1,442.6 L965.9,444.7 L966.7,446.1 L967.5,447.0 L968.3,446.3 L969.3,445.4 L970.1,443.8 L971.0,441.9 L971.9,439.9 L972.8,437.8 L973.6,436.0 L974.3,434.4 L975.0,432.8 L975.6,431.1 L976.2,429.4 L976.9,427.6 L977.5,425.9 L978.2,424.1 L978.9,422.4 L979.7,420.7 L980.6,419.0 L981.6,417.3 L982.6,415.7 L983.8,414.1 L984.9,412.5 L986.0,410.9 L987.1,409.2 L988.0,407.4 L988.9,405.5 L989.6,403.8 L990.2,402.0 L990.8,400.2 L991.4,398.3 L991.9,396.4 L992.3,394.4 L992.8,392.4 L993.3,390.5 L993.7,388.5 L994.1,386.5 L994.6,384.5 L995.0,382.6 L995.4,380.7 L995.8,378.7 L996.2,376.7 L996.6,374.7 L996.9,372.6 L997.3,370.6 L997.6,368.7 L998.0,366.7 L998.3,364.8 L998.7,363.0 L999.1,361.3 L999.6,359.7 L1000.2,357.6 L1000.8,355.5 L1001.5,353.3 L1002.2,351.4 L1002.9,349.8 L1003.6,348.8 L1004.2,348.0 L1004.8,348.8 L1005.5,349.8 L1006.2,351.4 L1006.8,353.4 L1007.5,355.5 L1008.1,357.7 L1008.7,359.7 L1009.2,361.3 L1009.6,363.0 L1010.0,364.8 L1010.4,366.7 L1010.7,368.6 L1011.1,370.5 L1011.5,372.4 L1011.9,374.3 L1012.3,376.1 L1012.8,377.9 L1013.3,379.5 L1014.0,381.4 L1014.7,383.5 L1015.3,385.7 L1016.1,387.7 L1016.9,389.6 L1017.7,391.0 L1018.5,392.1 L1019.4,392.2 L1020.4,392.2 L1021.4,391.1 L1022.4,389.6 L1023.5,387.8 L1024.7,385.9 L1025.9,384.1 L1027.0,382.6 L1028.3,381.2 L1029.5,379.6 L1030.8,378.0 L1032.0,376.6 L1033.3,375.6 L1034.7,374.9 L1036.6,375.0 L1038.3,376.6 L1040.6,376.7 L1042.3,377.4 L1043.6,376.7 L1044.7,375.7 L1045.8,374.3 L1046.9,372.7 L1048.0,371.0 L1048.9,369.1 L1049.9,367.3 L1050.6,365.8 L1051.2,364.1 L1051.8,362.3 L1052.4,360.5 L1052.9,358.6 L1053.4,356.6 L1053.9,354.5 L1054.3,352.5 L1054.7,350.4 L1055.2,348.4 L1055.6,346.4 L1056.0,344.4 L1056.4,342.5 L1056.7,340.7 L1057.1,338.8 L1057.4,336.8 L1057.6,334.9 L1057.9,333.0 L1058.2,331.1 L1058.5,329.2 L1058.7,327.3 L1059.0,325.4 L1059.3,323.6 L1059.7,321.8 L1060.0,320.0 L1060.4,318.0 L1060.8,316.0 L1061.2,313.9 L1061.5,311.9 L1061.9,309.9 L1062.4,308.0 L1062.9,306.2 L1063.3,304.5 L1063.9,303.0 L1064.6,301.7 L1065.8,299.7 L1067.2,298.1 L1068.4,296.5 L1069.9,296.2 L1070.9,296.8 L1071.9,297.8 L1072.9,299.2 L1074.0,300.8 L1074.9,302.7 L1075.9,304.5 L1076.8,306.3 L1077.5,307.9 L1078.2,309.5 L1078.8,311.2 L1079.4,313.1 L1080.0,314.9 L1080.6,316.8 L1081.1,318.8 L1081.7,320.7 L1082.3,322.7 L1082.9,324.6 L1083.4,326.3 L1084.0,328.1 L1084.5,330.0 L1085.1,331.9 L1085.7,333.8 L1086.2,335.8 L1086.8,337.7 L1087.4,339.6 L1088.0,341.4 L1088.6,343.1 L1089.2,344.7 L1089.8,346.2 L1090.6,347.5 L1091.7,349.4 L1092.8,351.2 L1094.0,352.7 L1095.3,354.0 L1096.5,355.2 L1098.1,356.0 L1099.5,357.1 L1101.3,356.6 L1102.7,357.6 L1104.3,357.2 L1105.6,356.1 L1107.1,355.2 L1108.9,354.5 L1110.1,353.2 L1111.7,352.0 L1113.3,350.8 L1114.8,349.4 L1116.4,348.4 L1117.9,347.3 L1119.8,347.1 L1121.6,347.1 L1123.4,346.8 L1125.3,346.1 L1127.1,346.9 L1129.0,346.8 L1130.9,346.7 L1132.8,347.5 L1134.6,346.6 L1136.5,347.1 L1137.8,345.8 L1139.4,344.8 L1140.7,343.2 L1141.9,341.6 L1143.2,339.9 L1144.1,338.5 L1144.9,337.1 L1145.7,335.5 L1146.4,333.8 L1147.2,332.1 L1147.9,330.3 L1148.6,328.4 L1149.3,326.5 L1150.0,324.6 L1150.6,323.0 L1151.2,321.3 L1151.7,319.5 L1152.3,317.7 L1152.8,315.9 L1153.4,314.0 L1153.9,312.2 L1154.5,310.2 L1155.0,308.3 L1155.6,306.4 L1156.1,304.4 L1156.6,302.5 L1157.2,300.6 L1157.7,298.7 L1158.2,296.9 L1158.7,295.0 L1159.2,293.1 L1159.7,291.2 L1160.2,289.2 L1160.7,287.3 L1161.2,285.3 L1161.7,283.4 L1162.2,281.5 L1162.7,279.7 L1163.2,277.8 L1163.7,276.1 L1164.2,274.4 L1164.8,272.7 L1165.3,271.2 L1166.0,269.2 L1166.7,267.2 L1167.4,265.3 L1168.1,263.5 L1168.8,261.8 L1169.5,260.2 L1170.5,258.8 L1171.3,257.4 L1172.7,256.0 L1174.4,255.0 L1176.0,253.9 L1177.4,252.7 L1179.0,252.4 L1180.5,253.5 L1182.2,254.4 L1183.7,255.8 L1185.1,257.5 L1186.0,258.8 L1186.9,260.2 L1187.6,261.9 L1188.4,263.6 L1189.1,265.5 L1189.8,267.4 L1190.5,269.3 L1191.2,271.2 L1191.8,272.8 L1192.4,274.5 L1193.0,276.3 L1193.5,278.0 L1194.1,279.8 L1194.6,281.6 L1195.2,283.5 L1195.7,285.3 L1196.2,287.2 L1196.8,289.1 L1197.3,291.0 L1197.8,292.8 L1198.3,294.6 L1198.7,296.5 L1199.2,298.4 L1199.7,300.3 L1200.1,302.2 L1200.6,304.2 L1201.0,306.1 L1201.5,308.0 L1202.0,309.9 L1202.4,311.8 L1202.9,313.7 L1203.4,315.5 L1203.9,317.3 L1204.4,319.2 L1204.8,321.0 L1205.3,322.8 L1205.8,324.6 L1206.3,326.4 L1206.8,328.1 L1207.3,329.9 L1207.8,331.7 L1208.4,333.4 L1208.9,335.1 L1209.5,336.8 L1210.2,338.7 L1210.9,340.7 L1211.6,342.7 L1212.3,344.6 L1213.1,346.6 L1213.8,348.5 L1214.6,350.3 L1215.4,352.0 L1216.3,353.6 L1217.2,355.1 L1218.3,356.9 L1219.6,358.5 L1220.9,360.0 L1222.1,361.5 L1223.5,362.7 L1224.6,363.8 L1226.5,364.7 L1228.3,365.2 L1230.2,365.0 L1231.8,364.3 L1233.6,363.8 L1235.3,362.5 L1237.1,361.3 L1238.1,360.2 L1239.2,358.9 L1240.4,357.5 L1241.6,356.2 L1242.8,354.7 L1243.8,353.2 L1245.0,351.8 L1246.3,350.6 L1247.4,349.1 L1248.7,347.8 L1249.9,346.5 L1251.3,345.4 L1252.6,344.2 L1253.9,343.0 L1255.1,341.9 L1256.9,341.3 L1258.6,340.7 L1260.2,339.8 L1261.9,339.3 L1263.6,339.3 L1265.3,338.7 L1266.9,339.6 L1268.5,340.6 L1270.3,341.5 L1272.0,342.6 L1273.6,343.7 L1275.4,344.4 L1277.3,345.1 L1279.1,345.8 L1281.0,346.3 L1282.9,346.4 L1284.8,346.9 L1286.6,347.6 L1288.5,348.0 L1290.5,347.9 L1291.9,346.9 L1293.6,346.7 L1295.1,345.8 L1296.5,344.7 L1298.0,343.8 L1299.4,342.8 L1300.8,341.9 L1301.9,340.4 L1303.4,339.3 L1304.6,338.0 L1305.9,336.7 L1307.3,335.4 L1308.4,333.9 L1309.5,332.3 L1310.7,330.8 L1311.8,329.2 L1312.8,327.5 L1314.1,326.0 L1315.2,324.5 L1316.4,323.1 L1317.9,321.6 L1319.5,320.3 L1320.9,318.8 L1322.4,317.4 L1324.1,316.6 L1325.4,315.4 L1327.4,314.5 L1329.3,313.5 L1331.4,313.7 L1333.2,313.7 L1334.5,314.4 L1335.7,315.5 L1336.9,316.9 L1338.1,318.5 L1339.4,320.0 L1340.4,321.2 L1341.6,322.3 L1342.8,323.6 L1344.2,324.6 L1345.4,326.0 L1346.6,327.4 L1347.5,329.0 L1348.5,330.4 L1349.2,332.0 L1350.0,333.7 L1350.7,335.4 L1351.4,337.3 L1352.1,339.1 L1352.7,341.0 L1353.4,343.0 L1354.0,344.9 L1354.6,346.9 L1355.3,348.8 L1355.9,350.6 L1356.5,352.4 L1357.1,354.2 L1357.7,356.1 L1358.3,357.9 L1358.9,359.8 L1359.4,361.7 L1360.0,363.6 L1360.6,365.5 L1361.2,367.5 L1361.7,369.4 L1362.3,371.3 L1362.9,373.2 L1363.5,375.0 L1364.0,376.9 L1364.5,378.7 L1365.1,380.5 L1365.6,382.4 L1366.1,384.2 L1366.6,386.1 L1367.2,388.0 L1367.7,389.8 L1368.2,391.7 L1368.8,393.6 L1369.3,395.4 L1369.9,397.3 L1370.5,399.2 L1371.1,401.0 L1371.7,402.9 L1372.2,404.7 L1372.8,406.6 L1373.4,408.5 L1374.0,410.3 L1374.6,412.2 L1375.3,414.1 L1375.9,416.0 L1376.5,417.8 L1377.2,419.6 L1377.8,421.4 L1378.4,423.2 L1379.1,425.0 L1379.7,426.7 L1380.4,428.6 L1381.1,430.5 L1381.9,432.3 L1382.6,434.1 L1383.4,435.9 L1384.1,437.7 L1384.9,439.5 L1385.7,441.2 L1386.5,442.9 L1387.2,444.7 L1388.0,446.3 L1388.8,448.0 L1389.6,449.8 L1390.5,451.6 L1391.5,453.3 L1392.4,455.0 L1393.3,456.7 L1394.2,458.3 L1395.1,460.0 L1396.1,461.6 L1397.1,463.2 L1398.0,464.8 L1398.9,466.5 L1399.9,468.2 L1400.8,469.9 L1401.7,471.7 L1402.8,473.2 L1403.8,474.8 L1404.9,476.2 L1406.0,477.5 L1407.2,478.4 L1408.8,479.5 L1410.6,480.4 L1412.4,480.9 L1414.4,481.2 L1416.3,481.6 L1417.9,482.2 L1419.6,482.9 L1421.2,483.7 L1423.0,484.1 L1424.6,484.7 L1426.2,484.2 L1428.0,484.3 L1429.8,483.5 L1431.3,482.1 L1432.8,480.9 L1434.6,481.2 L1436.4,480.9 L1438.5,481.0 L1440.1,482.5 L1441.9,483.7 L1443.8,484.7 L1445.2,485.7 L1446.8,486.7 L1448.3,487.8 L1450.0,488.7 L1451.5,489.8 L1452.9,490.9 L1454.4,491.7 L1456.3,491.6 L1458.0,491.9 L1459.8,492.2 L1461.6,491.4 L1463.3,491.2 L1465.1,491.4 L1467.0,491.0 L1468.9,490.1 L1470.6,488.9 L1472.6,488.7 L1474.3,488.1 L1475.9,488.9 L1477.5,489.2 L1478.9,489.9 L1480.3,490.9 L1481.7,491.9 L1482.8,493.3 L1484.0,494.8 L1485.2,496.2 L1486.4,497.7 L1488.0,498.9 L1489.3,500.3 L1490.8,501.6 L1492.5,502.5 L1494.1,503.7 L1495.7,504.4 L1497.3,505.1 L1498.9,505.9 L1500.6,506.7 L1502.3,506.6 L1504.0,506.8 L1505.6,506.2 L1507.4,506.3 L1509.2,506.0 L1510.9,505.1 L1512.5,504.1 L1514.0,502.9 L1515.2,501.8 L1516.5,500.6 L1517.6,499.0 L1518.7,497.4 L1519.9,495.8 L1520.9,494.1 L1522.1,492.5 L1523.0,490.8 L1524.2,489.3 L1525.1,487.7 L1526.2,486.1 L1527.2,484.5 L1528.3,482.9 L1529.3,481.3 L1530.3,479.8 L1531.4,478.4 L1532.4,477.1 L1533.5,475.3 L1534.7,473.8 L1535.9,472.3 L1537.1,470.8 L1538.6,469.6 L1539.6,467.9 L1541.3,466.9 L1542.8,465.6 L1544.5,464.6 L1546.1,463.3 L1547.7,462.0 L1548.6,460.3 L1549.6,458.7 L1550.5,457.0 L1551.4,455.2 L1552.3,453.4 L1553.2,451.5 L1554.1,449.7 L1555.2,448.0 L1556.3,446.5 L1557.4,444.9 L1558.6,443.4 L1560.0,442.0 L1561.3,440.5 L1562.4,439.0 L1563.7,437.5 L1564.8,435.9 L1565.9,434.3 L1566.8,432.7 L1567.6,431.0 L1568.3,429.3 L1569.0,427.5 L1569.7,425.8 L1570.4,424.0 L1571.1,422.3 L1571.8,420.6 L1572.6,419.0 L1573.5,417.5 L1574.6,416.0 L1575.6,414.5 L1576.7,413.2 L1577.9,411.9 L1579.2,410.7 L1580.5,409.6 L1581.4,408.0 L1582.6,406.8 L1583.7,405.2 L1584.8,403.6 L1585.8,402.0 L1586.8,400.3 L1588.0,398.8 L1589.0,397.3 L1590.3,396.1 L1591.6,394.8 L1593.2,393.9 L1594.9,393.1 L1596.6,392.6 L1598.1,391.8 L1599.3,390.7 L1600.7,389.6 L1601.6,388.3 L1602.7,387.1 L1604.0,386.2 L1605.6,385.9 L1607.5,385.3 L1609.5,385.4 L1611.4,385.6 L1613.2,385.8 L1615.1,386.1 L1616.6,387.3 L1618.5,387.8 L1619.9,389.1 L1621.3,390.2 L1622.5,391.6 L1623.9,393.1 L1624.9,394.9 L1626.1,396.6 L1626.9,398.1 L1627.7,399.8 L1628.3,401.6 L1629.0,403.4 L1629.7,405.2 L1630.5,407.0 L1631.2,408.8 L1632.3,410.4 L1633.2,411.8 L1634.3,413.2 L1635.3,414.6 L1636.7,415.7 L1637.8,417.0 L1639.1,418.2 L1640.3,419.5 L1641.4,421.0 L1642.4,422.6 L1643.6,424.1 L1644.5,425.8 L1645.5,427.5 L1646.6,429.2 L1647.5,431.0 L1648.5,432.8 L1649.5,434.5 L1650.5,436.3 L1651.4,437.9 L1652.4,439.6 L1653.3,441.3 L1654.2,443.0 L1655.1,444.7 L1656.0,446.4 L1656.9,448.1 L1657.9,449.8 L1658.7,451.5 L1659.6,453.1 L1660.7,454.9 L1661.8,456.5 L1662.7,458.2 L1663.7,459.9 L1664.8,461.5 L1665.8,463.2 L1666.8,464.9 L1667.8,466.6 L1668.8,468.3 L1669.7,470.0 L1670.7,471.7 L1671.5,473.5 L1672.4,475.4 L1673.3,477.2 L1674.3,478.9 L1675.1,480.7 L1676.1,482.3 L1677.1,483.7 L1678.0,485.1 L1679.2,486.5 L1680.6,487.6 L1681.9,488.7 L1683.0,490.0 L1684.4,490.9 L1685.6,492.0 L1686.9,493.3 L1688.0,494.8 L1689.1,496.2 L1690.3,497.5 L1691.8,498.8 L1693.0,499.9 L1694.4,500.9 L1696.2,501.4 L1697.7,502.7 L1699.4,503.5 L1701.1,504.2 L1702.6,505.3 L1703.9,506.5 L1705.0,507.8 L1706.1,509.3 L1707.1,510.8 L1708.0,512.4 L1708.8,514.1 L1709.7,515.7 L1710.6,517.3 L1711.6,518.7 L1712.8,520.4 L1714.2,521.9 L1715.3,523.6 L1716.7,525.0 L1717.9,526.6 L1719.1,528.0 L1720.5,529.2 L1721.5,530.6 L1722.7,531.8 L1723.9,532.9 L1725.3,534.0 L1727.0,534.7 L1728.7,535.6 L1730.4,536.7 L1732.3,537.4 L1734.2,537.4 L1736.0,537.4 L1738.0,538.2 L1739.8,537.2 L1741.5,536.3 L1743.3,535.3 L1745.1,535.3 L1746.7,535.9 L1748.3,536.2 L1749.7,537.5 L1751.4,538.1 L1752.8,539.1 L1754.4,540.0 L1755.7,541.1 L1757.0,542.5 L1758.1,543.9 L1759.4,545.2 L1760.6,546.5 L1761.9,547.7 L1763.5,548.9 L1765.0,550.3 L1766.8,551.1 L1768.6,551.6 L1770.3,552.3 L1771.9,552.6 L1773.4,551.6 L1775.1,551.1 L1776.7,550.2 L1778.5,549.7 L1780.2,549.3 L1782.1,548.8 L1784.1,549.1 L1786.1,549.6 L1788.2,549.9 L1790.3,549.9 L1792.2,549.8 L1794.0,549.1 L1795.7,548.3 L1797.4,547.3 L1798.7,545.7 L1800.2,544.4 L1801.5,543.0 L1803.1,542.3 L1804.6,541.7 L1806.1,541.2 L1807.7,541.6 L1809.2,541.4 L1810.7,542.0 L1812.3,542.8 L1813.8,543.7 L1815.2,545.0 L1816.9,545.3 L1818.8,546.0 L1820.8,546.0 L1822.6,546.4 L1824.5,546.1 L1825.8,545.3 L1827.1,544.0 L1828.4,542.3 L1829.7,540.5 L1830.9,538.8 L1832.2,537.3 L1833.6,536.2 L1835.6,536.3 L1837.4,535.9 L1839.3,535.6 L1841.3,535.7 L1843.0,535.4 L1844.8,535.8 L1846.6,536.2 L1848.4,536.4 L1850.2,536.2 L1851.9,536.1 L1853.8,535.7 L1855.6,534.6 L1857.1,533.0 L1859.1,532.1 L1860.9,531.5 L1862.6,530.7 L1864.1,531.2 L1865.7,531.6 L1867.0,532.9 L1868.8,533.8 L1870.3,534.9 L1871.8,536.2 L1873.0,537.6 L1874.8,537.6 L1876.6,537.8 L1878.4,538.4 L1880.2,538.4 L1882.0,538.8 L1883.8,538.0 L1885.6,538.2 L1887.3,539.1 L1889.1,540.0 L1890.9,540.8 L1892.6,541.7 L1894.6,541.7 L1896.2,542.1 L1898.1,542.2 L1900.0,542.0 L1901.8,541.2 L1903.6,540.4 L1905.4,539.8 L1907.4,540.2 L1909.2,540.1 L1911.1,540.6 L1913.0,539.7"/>
</g>
<g shape-rendering="crispEdges">
<rect x="217" y="48" width="1697" height="2" fill="#000"/>
<rect x="217" y="50" width="1697" height="2" fill="#6a6a6a"/>
<rect x="217" y="1292" width="1696" height="2" fill="#161616"/>
<rect x="217" y="1294" width="1696" height="2" fill="#c4c4c4"/>
<rect x="233" y="49" width="2" height="1263" fill="#000"/>
<rect x="1910" y="49" width="1" height="1263" fill="#9a9a9a"/>
<rect x="1911" y="49" width="1" height="1263" fill="#3a3a3a"/>
<rect x="1912" y="48" width="2" height="1264" fill="#000"/>
</g>
<rect x="217" y="1084.8" width="17" height="2.2" fill="#111"/>
<rect x="217" y="877.7" width="17" height="2.2" fill="#111"/>
<rect x="217" y="670.6" width="17" height="2.2" fill="#111"/>
<rect x="217" y="463.5" width="17" height="2.2" fill="#111"/>
<rect x="217" y="256.4" width="17" height="2.2" fill="#111"/>
<rect x="568.7" y="1294" width="2.4" height="18" fill="#151515"/>
<rect x="904.4" y="1294" width="2.4" height="18" fill="#151515"/>
<rect x="1240.2" y="1294" width="2.4" height="18" fill="#151515"/>
<rect x="1575.9" y="1294" width="2.4" height="18" fill="#151515"/>
<g font-family="'Liberation Sans', sans-serif" font-size="60" fill="#000">
<text x="184" y="1311.8" text-anchor="end">0</text>
<text x="184" y="1104.7" text-anchor="end">0.2</text>
<text x="184" y="897.6" text-anchor="end">0.4</text>
<text x="184" y="690.5" text-anchor="end">0.6</text>
<text x="184" y="483.4" text-anchor="end">0.8</text>
<text x="184" y="276.3" text-anchor="end">1</text>
<text x="184" y="69.2" text-anchor="end">1.2</text>
<text x="234.2" y="1384" text-anchor="middle">0</text>
<text x="569.9" y="1384" text-anchor="middle">2</text>
<text x="905.6" y="1384" text-anchor="middle">4</text>
<text x="1241.4" y="1384" text-anchor="middle">6</text>
<text x="1577.1" y="1384" text-anchor="middle">8</text>
<text x="1912.8" y="1384" text-anchor="middle">10</text>
<text x="1075" y="1449.7" text-anchor="middle">Voltage (V)</text>
<text transform="translate(85.5 671) rotate(-90)" text-anchor="middle">Transmission (a. u.)</text>
</g>
<g font-family="'Liberation Sans', sans-serif" font-size="60">
<text x="267.3" y="936" fill="#7d2fa6">pure 5CB</text>
<text x="267.3" y="1008.5" fill="#00b050">+SiO<tspan font-size="38.5" dy="14.5">2</tspan><tspan dy="-14.5"> 0.5 % wt</tspan></text>
<text x="267.3" y="1079.5" fill="#1c6fc7">+SiO<tspan font-size="38.5" dy="14.5">2</tspan><tspan dy="-14.5"> 0.5% wt+Fe</tspan><tspan font-size="38.5" dy="14.5">3</tspan><tspan dy="-14.5">O</tspan><tspan font-size="38.5" dy="14.5">4</tspan></text>
<text x="267.3" y="1151" fill="#ff0000">+SiO<tspan font-size="38.5" dy="14.5">2</tspan><tspan dy="-14.5"> 1% wt</tspan></text>
<text x="267.3" y="1223" fill="#000000">+SiO<tspan font-size="38.5" dy="14.5">2</tspan><tspan dy="-14.5"> 1% wt+Fe</tspan><tspan font-size="38.5" dy="14.5">3</tspan><tspan dy="-14.5">O</tspan><tspan font-size="38.5" dy="14.5">4</tspan></text>
</g>
</svg>
</body></html>
